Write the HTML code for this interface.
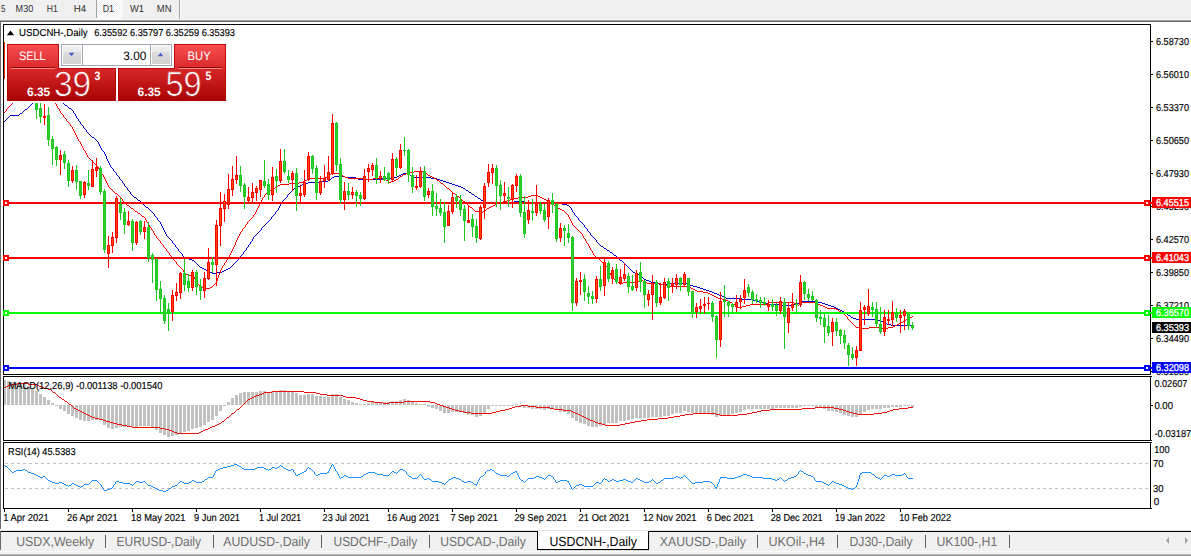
<!DOCTYPE html>
<html lang="en"><head><meta charset="utf-8"><title>USDCNH-,Daily</title>
<style>html,body{margin:0;padding:0;background:#fff;overflow:hidden}svg{display:block}text{font-family:"Liberation Sans", sans-serif;white-space:pre;text-rendering:geometricPrecision}</style></head><body>
<svg width="1191" height="556" viewBox="0 0 1191 556">
<defs>
<linearGradient id="gTop" x1="0" y1="0" x2="0" y2="1"><stop offset="0" stop-color="#fb4e50"/><stop offset="1" stop-color="#d92a2c"/></linearGradient>
<linearGradient id="gBot" x1="0" y1="0" x2="0" y2="1"><stop offset="0" stop-color="#d82829"/><stop offset="1" stop-color="#a80203"/></linearGradient>
<linearGradient id="gBotU" gradientUnits="userSpaceOnUse" x1="0" y1="68" x2="0" y2="101"><stop offset="0" stop-color="#d82829"/><stop offset="1" stop-color="#a80203"/></linearGradient>
<linearGradient id="gBtn" x1="0" y1="0" x2="0" y2="1"><stop offset="0" stop-color="#f2f2f2"/><stop offset="0.33" stop-color="#e8e8e8"/><stop offset="0.34" stop-color="#dcdcdc"/><stop offset="1" stop-color="#d2d2d2"/></linearGradient>
<pattern id="dith" width="2" height="2" patternUnits="userSpaceOnUse"><rect width="2" height="2" fill="#f0f0f0"/><rect width="1" height="1" fill="#fff"/><rect x="1" y="1" width="1" height="1" fill="#fff"/></pattern>
<clipPath id="cMain"><rect x="4" y="25" width="1146" height="349"/></clipPath>
<clipPath id="cMacd"><rect x="4" y="377" width="1146" height="63"/></clipPath>
<clipPath id="cRsi"><rect x="4" y="443" width="1146" height="65"/></clipPath>
</defs>
<g shape-rendering="crispEdges">
<rect x="0" y="0" width="1191" height="556" fill="#fff" />
<rect x="0" y="0" width="1191" height="19" fill="#f0f0f0" />
<rect x="0" y="19" width="1191" height="1" fill="#f6f6f6" />
<rect x="0" y="20" width="1191" height="1" fill="#a0a0a0" />
<rect x="0" y="21" width="1191" height="1" fill="#696969" />
<rect x="97" y="0" width="24" height="18" fill="url(#dith)" />
<rect x="96" y="0" width="1" height="18" fill="#a0a0a0" />
<rect x="121" y="0" width="1" height="19" fill="#fff" />
<rect x="96" y="18" width="26" height="1" fill="#fff" />
<rect x="179" y="0" width="1" height="19" fill="#a0a0a0" />
<rect x="180" y="0" width="1" height="19" fill="#fff" />
<rect x="0" y="21" width="1" height="508" fill="#696969" />
<rect x="0" y="529" width="1191" height="1" fill="#fff" />
<rect x="0" y="530" width="1191" height="1" fill="#e3e3e3" />
<rect x="0" y="531" width="1191" height="1" fill="#000" />
<rect x="0" y="532" width="1191" height="22" fill="#f0f0f0" />
<rect x="0" y="531" width="1" height="19" fill="#696969" />
<rect x="0" y="551" width="1191" height="1" fill="#fafafa" />
<rect x="0" y="554" width="1191" height="1" fill="#b8b8b8" />
<rect x="0" y="555" width="1191" height="1" fill="#989898" />
<rect x="538" y="531" width="110" height="18" fill="#fff" />
<rect x="537" y="531" width="1" height="19" fill="#000" />
<rect x="648" y="531" width="1" height="19" fill="#000" />
<rect x="537" y="549" width="112" height="1" fill="#000" />
<rect x="538" y="550" width="112" height="1" fill="#dcdcdc" />
<rect x="649" y="532" width="1" height="19" fill="#e2e2e2" />
<rect x="105" y="535" width="1" height="13" fill="#606060" />
<rect x="213" y="535" width="1" height="13" fill="#606060" />
<rect x="321" y="535" width="1" height="13" fill="#606060" />
<rect x="429" y="535" width="1" height="13" fill="#606060" />
<rect x="757" y="535" width="1" height="13" fill="#606060" />
<rect x="837" y="535" width="1" height="13" fill="#606060" />
<rect x="925" y="535" width="1" height="13" fill="#606060" />
<rect x="1009" y="535" width="1" height="13" fill="#606060" />
</g>
<path d="M1169 537 L1166 540.5 L1169 544 Z" fill="#a0a0a0"/>
<path d="M1185 537 L1188 540.5 L1185 544 Z" fill="#a0a0a0"/>
<text x="1" y="12" font-size="10.1" fill="#303030" textLength="4.4" lengthAdjust="spacingAndGlyphs">5</text>
<text x="15.6" y="12" font-size="10.1" fill="#303030" textLength="17.6" lengthAdjust="spacingAndGlyphs">M30</text>
<text x="46.8" y="12" font-size="10.1" fill="#303030" textLength="11.0" lengthAdjust="spacingAndGlyphs">H1</text>
<text x="73.8" y="12" font-size="10.1" fill="#303030" textLength="12.4" lengthAdjust="spacingAndGlyphs">H4</text>
<text x="102.7" y="12" font-size="10.1" fill="#303030" textLength="11.3" lengthAdjust="spacingAndGlyphs">D1</text>
<text x="130" y="12" font-size="10.1" fill="#303030" textLength="14" lengthAdjust="spacingAndGlyphs">W1</text>
<text x="156.8" y="12" font-size="10.1" fill="#303030" textLength="14.7" lengthAdjust="spacingAndGlyphs">MN</text>
<text x="16.2" y="546" font-size="13.2" fill="#6e6e6e" textLength="78.0" lengthAdjust="spacingAndGlyphs">USDX,Weekly</text>
<text x="116.5" y="546" font-size="13.2" fill="#6e6e6e" textLength="84.5" lengthAdjust="spacingAndGlyphs">EURUSD-,Daily</text>
<text x="223.2" y="546" font-size="13.2" fill="#6e6e6e" textLength="86.8" lengthAdjust="spacingAndGlyphs">AUDUSD-,Daily</text>
<text x="333.5" y="546" font-size="13.2" fill="#6e6e6e" textLength="83.7" lengthAdjust="spacingAndGlyphs">USDCHF-,Daily</text>
<text x="440.2" y="546" font-size="13.2" fill="#6e6e6e" textLength="85.6" lengthAdjust="spacingAndGlyphs">USDCAD-,Daily</text>
<text x="549.4" y="546" font-size="13.2" fill="#000" textLength="87.6" lengthAdjust="spacingAndGlyphs">USDCNH-,Daily</text>
<text x="659.8" y="546" font-size="13.2" fill="#6e6e6e" textLength="86.0" lengthAdjust="spacingAndGlyphs">XAUUSD-,Daily</text>
<text x="768.4" y="546" font-size="13.2" fill="#6e6e6e" textLength="56.6" lengthAdjust="spacingAndGlyphs">UKOil-,H4</text>
<text x="849.5" y="546" font-size="13.2" fill="#6e6e6e" textLength="63.1" lengthAdjust="spacingAndGlyphs">DJ30-,Daily</text>
<text x="936.4" y="546" font-size="13.2" fill="#6e6e6e" textLength="60.9" lengthAdjust="spacingAndGlyphs">UK100-,H1</text>
<g shape-rendering="crispEdges">
<rect x="3" y="24" width="1148" height="1" fill="#000" />
<rect x="3" y="374" width="1148" height="1" fill="#000" />
<rect x="3" y="24" width="1" height="351" fill="#000" />
<rect x="1150" y="24" width="1" height="351" fill="#000" />
<rect x="3" y="376" width="1148" height="1" fill="#000" />
<rect x="3" y="440" width="1148" height="1" fill="#000" />
<rect x="3" y="376" width="1" height="65" fill="#000" />
<rect x="1150" y="376" width="1" height="65" fill="#000" />
<rect x="3" y="442" width="1148" height="1" fill="#000" />
<rect x="3" y="508" width="1148" height="1" fill="#000" />
<rect x="3" y="442" width="1" height="67" fill="#000" />
<rect x="1150" y="442" width="1" height="67" fill="#000" />
<rect x="1151" y="41" width="2" height="1" fill="#000" />
<rect x="1151" y="74" width="2" height="1" fill="#000" />
<rect x="1151" y="107" width="2" height="1" fill="#000" />
<rect x="1151" y="140" width="2" height="1" fill="#000" />
<rect x="1151" y="173" width="2" height="1" fill="#000" />
<rect x="1151" y="206" width="2" height="1" fill="#000" />
<rect x="1151" y="239" width="2" height="1" fill="#000" />
<rect x="1151" y="272" width="2" height="1" fill="#000" />
<rect x="1151" y="305" width="2" height="1" fill="#000" />
<rect x="1151" y="338" width="2" height="1" fill="#000" />
<rect x="1151" y="371" width="2" height="1" fill="#000" />
<rect x="1151" y="405" width="2" height="1" fill="#000" />
<rect x="1151" y="376" width="1" height="1" fill="#000" />
<rect x="1151" y="440" width="1" height="1" fill="#000" />
<rect x="1151" y="442" width="1" height="1" fill="#000" />
<rect x="1151" y="508" width="1" height="1" fill="#000" />
<rect x="4" y="509" width="1" height="3" fill="#000" />
<rect x="68" y="509" width="1" height="3" fill="#000" />
<rect x="132" y="509" width="1" height="3" fill="#000" />
<rect x="196" y="509" width="1" height="3" fill="#000" />
<rect x="260" y="509" width="1" height="3" fill="#000" />
<rect x="324" y="509" width="1" height="3" fill="#000" />
<rect x="388" y="509" width="1" height="3" fill="#000" />
<rect x="452" y="509" width="1" height="3" fill="#000" />
<rect x="516" y="509" width="1" height="3" fill="#000" />
<rect x="580" y="509" width="1" height="3" fill="#000" />
<rect x="644" y="509" width="1" height="3" fill="#000" />
<rect x="708" y="509" width="1" height="3" fill="#000" />
<rect x="772" y="509" width="1" height="3" fill="#000" />
<rect x="836" y="509" width="1" height="3" fill="#000" />
<rect x="900" y="509" width="1" height="3" fill="#000" />
</g>
<text x="1156" y="45" font-size="10.1" fill="#000" textLength="33" lengthAdjust="spacingAndGlyphs" stroke="#000" stroke-width="0.15">6.58730</text>
<text x="1156" y="78" font-size="10.1" fill="#000" textLength="33" lengthAdjust="spacingAndGlyphs" stroke="#000" stroke-width="0.15">6.56010</text>
<text x="1156" y="111" font-size="10.1" fill="#000" textLength="33" lengthAdjust="spacingAndGlyphs" stroke="#000" stroke-width="0.15">6.53370</text>
<text x="1156" y="144" font-size="10.1" fill="#000" textLength="33" lengthAdjust="spacingAndGlyphs" stroke="#000" stroke-width="0.15">6.50650</text>
<text x="1156" y="177" font-size="10.1" fill="#000" textLength="33" lengthAdjust="spacingAndGlyphs" stroke="#000" stroke-width="0.15">6.47930</text>
<text x="1156" y="210" font-size="10.1" fill="#000" textLength="33" lengthAdjust="spacingAndGlyphs" stroke="#000" stroke-width="0.15">6.45290</text>
<text x="1156" y="243" font-size="10.1" fill="#000" textLength="33" lengthAdjust="spacingAndGlyphs" stroke="#000" stroke-width="0.15">6.42570</text>
<text x="1156" y="276" font-size="10.1" fill="#000" textLength="33" lengthAdjust="spacingAndGlyphs" stroke="#000" stroke-width="0.15">6.39850</text>
<text x="1156" y="309" font-size="10.1" fill="#000" textLength="33" lengthAdjust="spacingAndGlyphs" stroke="#000" stroke-width="0.15">6.37210</text>
<text x="1156" y="342" font-size="10.1" fill="#000" textLength="33" lengthAdjust="spacingAndGlyphs" stroke="#000" stroke-width="0.15">6.34490</text>
<text x="1156" y="375" font-size="10.1" fill="#000" textLength="33" lengthAdjust="spacingAndGlyphs" stroke="#000" stroke-width="0.15">6.31850</text>
<text x="3.2" y="521" font-size="10.1" fill="#000" textLength="45.6" lengthAdjust="spacingAndGlyphs" stroke="#000" stroke-width="0.15">1 Apr 2021</text>
<text x="67.1" y="521" font-size="10.1" fill="#000" textLength="50.6" lengthAdjust="spacingAndGlyphs" stroke="#000" stroke-width="0.15">26 Apr 2021</text>
<text x="131.1" y="521" font-size="10.1" fill="#000" textLength="54.3" lengthAdjust="spacingAndGlyphs" stroke="#000" stroke-width="0.15">18 May 2021</text>
<text x="194.1" y="521" font-size="10.1" fill="#000" textLength="45.9" lengthAdjust="spacingAndGlyphs" stroke="#000" stroke-width="0.15">9 Jun 2021</text>
<text x="258.9" y="521" font-size="10.1" fill="#000" textLength="42.3" lengthAdjust="spacingAndGlyphs" stroke="#000" stroke-width="0.15">1 Jul 2021</text>
<text x="322.6" y="521" font-size="10.1" fill="#000" textLength="47.1" lengthAdjust="spacingAndGlyphs" stroke="#000" stroke-width="0.15">23 Jul 2021</text>
<text x="386.8" y="521" font-size="10.1" fill="#000" textLength="53.0" lengthAdjust="spacingAndGlyphs" stroke="#000" stroke-width="0.15">16 Aug 2021</text>
<text x="450.4" y="521" font-size="10.1" fill="#000" textLength="47.4" lengthAdjust="spacingAndGlyphs" stroke="#000" stroke-width="0.15">7 Sep 2021</text>
<text x="514.4" y="521" font-size="10.1" fill="#000" textLength="52.7" lengthAdjust="spacingAndGlyphs" stroke="#000" stroke-width="0.15">29 Sep 2021</text>
<text x="578.6" y="521" font-size="10.1" fill="#000" textLength="51.2" lengthAdjust="spacingAndGlyphs" stroke="#000" stroke-width="0.15">21 Oct 2021</text>
<text x="642.9" y="521" font-size="10.1" fill="#000" textLength="53.7" lengthAdjust="spacingAndGlyphs" stroke="#000" stroke-width="0.15">12 Nov 2021</text>
<text x="706.7" y="521" font-size="10.1" fill="#000" textLength="47.2" lengthAdjust="spacingAndGlyphs" stroke="#000" stroke-width="0.15">6 Dec 2021</text>
<text x="770.7" y="521" font-size="10.1" fill="#000" textLength="51.9" lengthAdjust="spacingAndGlyphs" stroke="#000" stroke-width="0.15">28 Dec 2021</text>
<text x="834.9" y="521" font-size="10.1" fill="#000" textLength="50.2" lengthAdjust="spacingAndGlyphs" stroke="#000" stroke-width="0.15">19 Jan 2022</text>
<text x="899.2" y="521" font-size="10.1" fill="#000" textLength="51.9" lengthAdjust="spacingAndGlyphs" stroke="#000" stroke-width="0.15">10 Feb 2022</text>
<g clip-path="url(#cMain)">
<path d="M35 100.5h1M62 100.5h1M34 101.5h1M62 101.5h1M33 102.5h1M63 102.5h1M32 103.5h1M63 103.5h1M31 104.5h1M64 104.5h1M30 105.5h1M65 105.5h2M29 106.5h1M67 106.5h1M28 107.5h1M68 107.5h1M27 108.5h1M69 108.5h2M25 109.5h2M71 109.5h1M24 110.5h1M72 110.5h1M23 111.5h1M73 111.5h1M22 112.5h1M73 112.5h1M20 113.5h2M74 113.5h1M19 114.5h1M75 114.5h1M10 115.5h9M75 115.5h1M9 116.5h1M76 116.5h1M8 117.5h1M76 117.5h1M7 118.5h1M77 118.5h1M6 119.5h1M78 119.5h1M5 120.5h1M78 120.5h1M4 121.5h1M79 121.5h1M80 122.5h1M80 123.5h1M81 124.5h1M82 125.5h1M83 126.5h1M83 127.5h1M84 128.5h1M85 129.5h1M86 130.5h1M86 131.5h1M87 132.5h1M88 133.5h1M89 134.5h1M90 135.5h1M91 136.5h1M92 137.5h2M94 138.5h1M95 139.5h1M96 140.5h1M97 141.5h1M98 142.5h1M98 143.5h1M99 144.5h1M99 145.5h1M100 146.5h1M100 147.5h1M101 148.5h1M101 149.5h1M102 150.5h1M103 151.5h1M104 152.5h1M104 153.5h1M105 154.5h1M105 155.5h1M106 156.5h1M106 157.5h1M106 158.5h1M107 159.5h1M107 160.5h1M108 161.5h1M108 162.5h1M109 163.5h1M109 164.5h1M110 165.5h1M110 166.5h1M111 167.5h1M112 168.5h1M113 169.5h1M113 170.5h1M114 171.5h1M115 172.5h1M116 173.5h1M403 173.5h4M116 174.5h1M401 174.5h2M407 174.5h3M117 175.5h1M399 175.5h2M410 175.5h2M118 176.5h1M334 176.5h11M397 176.5h2M412 176.5h2M119 177.5h1M332 177.5h2M345 177.5h11M392 177.5h5M414 177.5h17M119 178.5h1M331 178.5h1M356 178.5h2M382 178.5h10M431 178.5h6M120 179.5h1M330 179.5h1M358 179.5h24M437 179.5h3M121 180.5h1M328 180.5h2M440 180.5h3M122 181.5h1M319 181.5h9M443 181.5h3M122 182.5h1M308 182.5h11M446 182.5h3M123 183.5h1M305 183.5h3M449 183.5h3M124 184.5h1M302 184.5h3M452 184.5h3M124 185.5h1M300 185.5h2M455 185.5h3M125 186.5h1M298 186.5h2M458 186.5h3M126 187.5h1M296 187.5h2M461 187.5h2M127 188.5h1M294 188.5h2M463 188.5h2M127 189.5h1M293 189.5h1M465 189.5h1M128 190.5h1M292 190.5h1M466 190.5h2M129 191.5h1M291 191.5h1M468 191.5h1M130 192.5h1M290 192.5h1M469 192.5h2M130 193.5h1M289 193.5h1M471 193.5h1M131 194.5h1M288 194.5h1M472 194.5h2M132 195.5h1M287 195.5h1M474 195.5h1M133 196.5h1M287 196.5h1M475 196.5h2M134 197.5h2M286 197.5h1M477 197.5h1M136 198.5h1M285 198.5h1M478 198.5h2M137 199.5h1M284 199.5h1M480 199.5h1M138 200.5h2M283 200.5h1M481 200.5h2M140 201.5h1M282 201.5h1M483 201.5h2M514 201.5h11M551 201.5h2M141 202.5h1M281 202.5h1M485 202.5h29M525 202.5h26M553 202.5h3M142 203.5h1M281 203.5h1M556 203.5h6M143 204.5h1M280 204.5h1M562 204.5h5M144 205.5h1M280 205.5h1M567 205.5h2M145 206.5h1M279 206.5h1M569 206.5h1M146 207.5h2M279 207.5h1M570 207.5h1M148 208.5h1M278 208.5h1M571 208.5h1M149 209.5h1M278 209.5h1M571 209.5h1M150 210.5h1M277 210.5h1M572 210.5h1M151 211.5h1M276 211.5h1M572 211.5h1M152 212.5h1M275 212.5h1M573 212.5h1M153 213.5h1M275 213.5h1M574 213.5h1M154 214.5h1M274 214.5h1M574 214.5h1M154 215.5h1M273 215.5h1M575 215.5h1M155 216.5h1M272 216.5h1M576 216.5h1M156 217.5h1M271 217.5h1M577 217.5h1M157 218.5h1M271 218.5h1M578 218.5h1M157 219.5h1M270 219.5h1M578 219.5h1M158 220.5h1M269 220.5h1M579 220.5h1M159 221.5h1M268 221.5h1M580 221.5h1M160 222.5h1M267 222.5h1M581 222.5h1M160 223.5h1M266 223.5h1M582 223.5h1M161 224.5h1M265 224.5h1M583 224.5h1M161 225.5h1M264 225.5h1M584 225.5h1M162 226.5h1M263 226.5h1M584 226.5h1M162 227.5h1M262 227.5h1M585 227.5h1M163 228.5h1M261 228.5h1M586 228.5h1M163 229.5h1M261 229.5h1M587 229.5h1M164 230.5h1M260 230.5h1M587 230.5h1M164 231.5h1M259 231.5h1M588 231.5h1M165 232.5h1M258 232.5h1M589 232.5h1M165 233.5h1M257 233.5h1M590 233.5h1M166 234.5h1M256 234.5h1M590 234.5h1M166 235.5h1M255 235.5h1M591 235.5h1M167 236.5h1M254 236.5h1M592 236.5h1M168 237.5h1M253 237.5h1M593 237.5h1M169 238.5h1M253 238.5h1M594 238.5h1M170 239.5h1M252 239.5h1M595 239.5h1M171 240.5h1M252 240.5h1M596 240.5h1M172 241.5h1M251 241.5h1M596 241.5h1M172 242.5h1M250 242.5h1M597 242.5h1M173 243.5h1M250 243.5h1M598 243.5h1M174 244.5h1M249 244.5h1M599 244.5h1M175 245.5h1M248 245.5h1M600 245.5h1M175 246.5h1M248 246.5h1M601 246.5h2M176 247.5h1M247 247.5h1M603 247.5h1M177 248.5h1M246 248.5h1M604 248.5h2M178 249.5h1M246 249.5h1M606 249.5h1M178 250.5h1M245 250.5h1M607 250.5h2M179 251.5h1M244 251.5h1M609 251.5h1M180 252.5h1M243 252.5h1M610 252.5h2M181 253.5h1M243 253.5h1M612 253.5h1M182 254.5h1M242 254.5h1M613 254.5h1M182 255.5h1M241 255.5h1M614 255.5h2M183 256.5h1M240 256.5h1M616 256.5h1M184 257.5h2M240 257.5h1M617 257.5h1M186 258.5h3M239 258.5h1M618 258.5h1M189 259.5h3M238 259.5h1M619 259.5h1M192 260.5h2M237 260.5h1M620 260.5h2M194 261.5h1M236 261.5h1M622 261.5h1M195 262.5h1M235 262.5h1M623 262.5h1M196 263.5h1M234 263.5h1M624 263.5h1M197 264.5h1M233 264.5h1M625 264.5h1M198 265.5h1M232 265.5h1M626 265.5h1M199 266.5h1M231 266.5h1M627 266.5h1M200 267.5h2M230 267.5h1M628 267.5h1M202 268.5h2M228 268.5h2M629 268.5h1M204 269.5h2M226 269.5h2M630 269.5h1M206 270.5h2M224 270.5h2M631 270.5h1M208 271.5h2M222 271.5h2M632 271.5h1M210 272.5h2M217 272.5h5M633 272.5h2M212 273.5h5M635 273.5h2M637 274.5h2M639 275.5h1M640 276.5h1M641 277.5h2M643 278.5h1M644 279.5h2M646 280.5h3M649 281.5h2M651 282.5h4M655 283.5h4M667 283.5h21M659 284.5h8M688 284.5h2M690 285.5h3M693 286.5h4M697 287.5h3M700 288.5h3M703 289.5h3M706 290.5h3M709 291.5h3M712 292.5h2M714 293.5h3M717 294.5h2M719 295.5h3M722 296.5h2M724 297.5h2M726 298.5h16M742 299.5h10M752 300.5h5M757 301.5h3M802 301.5h16M760 302.5h3M800 302.5h2M818 302.5h4M763 303.5h6M797 303.5h3M822 303.5h3M769 304.5h10M793 304.5h4M825 304.5h3M779 305.5h14M828 305.5h3M831 306.5h3M834 307.5h2M836 308.5h2M838 309.5h2M840 310.5h2M842 311.5h2M844 312.5h2M846 313.5h1M847 314.5h1M848 315.5h2M850 316.5h1M851 317.5h2M853 318.5h3M856 319.5h22M878 320.5h3M881 321.5h2M883 322.5h2M885 323.5h2M887 324.5h4M891 325.5h22" fill="none" stroke="#0000d0" stroke-width="1" shape-rendering="crispEdges"/>
<path d="M15 100.5h1M54 100.5h1M14 101.5h1M54 101.5h1M13 102.5h1M55 102.5h1M12 103.5h1M55 103.5h1M11 104.5h1M56 104.5h1M10 105.5h1M56 105.5h1M9 106.5h1M57 106.5h1M8 107.5h1M57 107.5h1M7 108.5h1M58 108.5h1M6 109.5h1M59 109.5h1M6 110.5h1M59 110.5h1M5 111.5h1M60 111.5h1M4 112.5h1M60 112.5h1M61 113.5h1M62 114.5h1M63 115.5h1M63 116.5h1M64 117.5h1M65 118.5h1M66 119.5h1M66 120.5h1M67 121.5h1M68 122.5h1M69 123.5h1M70 124.5h1M70 125.5h1M71 126.5h1M72 127.5h1M72 128.5h1M73 129.5h1M73 130.5h1M74 131.5h1M74 132.5h1M75 133.5h1M75 134.5h1M76 135.5h1M76 136.5h1M77 137.5h1M77 138.5h1M78 139.5h1M78 140.5h1M79 141.5h1M80 142.5h1M80 143.5h1M81 144.5h1M81 145.5h1M82 146.5h1M82 147.5h1M83 148.5h1M83 149.5h1M84 150.5h1M85 151.5h1M85 152.5h1M86 153.5h1M86 154.5h1M87 155.5h1M87 156.5h1M88 157.5h1M89 158.5h1M90 159.5h1M91 160.5h1M92 161.5h1M93 162.5h1M94 163.5h1M95 164.5h1M96 165.5h1M97 166.5h1M98 167.5h1M98 168.5h1M99 169.5h1M99 170.5h1M100 171.5h1M414 171.5h9M101 172.5h1M410 172.5h4M423 172.5h2M101 173.5h1M331 173.5h8M406 173.5h4M425 173.5h2M102 174.5h1M329 174.5h2M339 174.5h2M403 174.5h3M427 174.5h1M103 175.5h1M328 175.5h1M341 175.5h2M402 175.5h1M428 175.5h2M103 176.5h1M327 176.5h1M343 176.5h2M400 176.5h2M430 176.5h2M104 177.5h1M325 177.5h2M345 177.5h3M399 177.5h1M432 177.5h2M104 178.5h1M308 178.5h17M348 178.5h16M373 178.5h9M398 178.5h1M434 178.5h2M105 179.5h1M307 179.5h1M364 179.5h9M382 179.5h4M396 179.5h2M436 179.5h1M105 180.5h1M305 180.5h2M386 180.5h2M394 180.5h2M437 180.5h2M106 181.5h1M303 181.5h2M388 181.5h1M391 181.5h3M439 181.5h1M106 182.5h1M299 182.5h4M389 182.5h2M440 182.5h1M107 183.5h1M289 183.5h10M441 183.5h2M107 184.5h1M280 184.5h9M443 184.5h1M108 185.5h1M278 185.5h2M444 185.5h1M108 186.5h1M276 186.5h2M445 186.5h1M109 187.5h1M275 187.5h1M446 187.5h1M110 188.5h1M273 188.5h2M447 188.5h2M111 189.5h1M271 189.5h2M449 189.5h1M112 190.5h1M270 190.5h1M450 190.5h1M113 191.5h1M269 191.5h1M451 191.5h1M114 192.5h1M267 192.5h2M452 192.5h1M115 193.5h2M266 193.5h1M453 193.5h2M117 194.5h1M265 194.5h1M455 194.5h1M118 195.5h1M264 195.5h1M456 195.5h1M531 195.5h7M119 196.5h1M264 196.5h1M457 196.5h2M528 196.5h3M538 196.5h2M120 197.5h1M263 197.5h1M459 197.5h1M518 197.5h10M540 197.5h2M121 198.5h1M262 198.5h1M460 198.5h1M514 198.5h4M542 198.5h2M122 199.5h1M262 199.5h1M461 199.5h1M510 199.5h4M544 199.5h2M122 200.5h1M261 200.5h1M462 200.5h1M507 200.5h3M546 200.5h2M123 201.5h1M261 201.5h1M463 201.5h2M503 201.5h4M548 201.5h2M124 202.5h1M260 202.5h1M465 202.5h1M499 202.5h4M550 202.5h2M125 203.5h1M260 203.5h1M466 203.5h1M497 203.5h2M552 203.5h1M126 204.5h1M259 204.5h1M467 204.5h1M495 204.5h2M553 204.5h1M127 205.5h2M259 205.5h1M468 205.5h1M493 205.5h2M554 205.5h2M129 206.5h1M258 206.5h1M469 206.5h1M491 206.5h2M556 206.5h1M130 207.5h1M258 207.5h1M470 207.5h2M489 207.5h2M557 207.5h1M131 208.5h2M257 208.5h1M472 208.5h1M487 208.5h2M558 208.5h2M133 209.5h1M257 209.5h1M473 209.5h1M486 209.5h1M560 209.5h2M134 210.5h1M256 210.5h1M474 210.5h1M485 210.5h1M562 210.5h2M135 211.5h2M256 211.5h1M475 211.5h4M483 211.5h2M564 211.5h1M137 212.5h1M255 212.5h1M479 212.5h4M565 212.5h1M138 213.5h2M255 213.5h1M566 213.5h1M140 214.5h1M254 214.5h1M567 214.5h1M141 215.5h1M253 215.5h1M568 215.5h1M142 216.5h2M253 216.5h1M568 216.5h1M144 217.5h1M252 217.5h1M569 217.5h1M145 218.5h1M251 218.5h1M569 218.5h1M145 219.5h1M250 219.5h1M570 219.5h1M146 220.5h1M249 220.5h1M570 220.5h1M146 221.5h1M248 221.5h1M571 221.5h1M147 222.5h1M247 222.5h1M571 222.5h1M148 223.5h1M247 223.5h1M572 223.5h1M148 224.5h1M246 224.5h1M572 224.5h1M149 225.5h1M245 225.5h1M573 225.5h1M149 226.5h1M245 226.5h1M574 226.5h1M150 227.5h1M244 227.5h1M575 227.5h1M151 228.5h1M243 228.5h1M576 228.5h1M151 229.5h1M242 229.5h1M577 229.5h1M152 230.5h1M242 230.5h1M578 230.5h1M153 231.5h1M241 231.5h1M579 231.5h1M153 232.5h1M240 232.5h1M580 232.5h1M154 233.5h1M240 233.5h1M581 233.5h1M154 234.5h1M239 234.5h1M582 234.5h1M155 235.5h1M239 235.5h1M582 235.5h1M156 236.5h1M238 236.5h1M583 236.5h1M156 237.5h1M238 237.5h1M583 237.5h1M157 238.5h1M237 238.5h1M584 238.5h1M158 239.5h1M237 239.5h1M585 239.5h1M159 240.5h1M236 240.5h1M585 240.5h1M160 241.5h1M236 241.5h1M586 241.5h1M160 242.5h1M235 242.5h1M586 242.5h1M161 243.5h1M235 243.5h1M587 243.5h1M162 244.5h1M235 244.5h1M588 244.5h1M163 245.5h1M234 245.5h1M588 245.5h1M163 246.5h1M234 246.5h1M589 246.5h1M164 247.5h1M233 247.5h1M589 247.5h1M165 248.5h1M233 248.5h1M590 248.5h1M166 249.5h1M232 249.5h1M590 249.5h1M166 250.5h1M232 250.5h1M591 250.5h1M167 251.5h1M231 251.5h1M592 251.5h1M168 252.5h1M231 252.5h1M592 252.5h1M169 253.5h1M230 253.5h1M593 253.5h1M169 254.5h1M230 254.5h1M593 254.5h1M170 255.5h1M229 255.5h1M594 255.5h1M171 256.5h1M229 256.5h1M595 256.5h1M172 257.5h1M228 257.5h1M596 257.5h1M172 258.5h1M228 258.5h1M597 258.5h2M173 259.5h1M227 259.5h1M599 259.5h1M174 260.5h1M226 260.5h1M600 260.5h1M175 261.5h1M226 261.5h1M601 261.5h1M176 262.5h1M225 262.5h1M602 262.5h1M176 263.5h1M224 263.5h1M603 263.5h1M177 264.5h1M224 264.5h1M604 264.5h1M178 265.5h1M223 265.5h1M605 265.5h1M179 266.5h1M222 266.5h1M606 266.5h1M180 267.5h1M222 267.5h1M607 267.5h1M181 268.5h1M221 268.5h1M607 268.5h1M182 269.5h1M221 269.5h1M608 269.5h1M183 270.5h1M220 270.5h1M608 270.5h1M183 271.5h1M220 271.5h1M609 271.5h1M184 272.5h1M220 272.5h1M609 272.5h1M185 273.5h1M219 273.5h1M610 273.5h1M186 274.5h2M219 274.5h1M610 274.5h1M188 275.5h4M218 275.5h1M611 275.5h1M192 276.5h2M218 276.5h1M611 276.5h1M194 277.5h1M218 277.5h1M612 277.5h1M194 278.5h1M217 278.5h1M613 278.5h1M195 279.5h1M217 279.5h1M614 279.5h1M195 280.5h1M217 280.5h1M615 280.5h2M639 280.5h4M196 281.5h1M216 281.5h1M617 281.5h1M635 281.5h4M643 281.5h2M197 282.5h1M216 282.5h1M618 282.5h1M623 282.5h12M645 282.5h2M197 283.5h1M215 283.5h1M619 283.5h4M647 283.5h14M198 284.5h1M214 284.5h1M661 284.5h5M199 285.5h1M213 285.5h1M666 285.5h4M200 286.5h2M212 286.5h1M670 286.5h19M202 287.5h1M210 287.5h2M689 287.5h2M203 288.5h7M691 288.5h2M693 289.5h2M695 290.5h2M697 291.5h6M703 292.5h5M708 293.5h2M710 294.5h2M712 295.5h2M714 296.5h2M716 297.5h2M718 298.5h4M722 299.5h4M726 300.5h2M728 301.5h2M730 302.5h2M769 302.5h25M801 302.5h15M732 303.5h1M767 303.5h2M794 303.5h2M800 303.5h1M816 303.5h2M733 304.5h2M750 304.5h17M796 304.5h2M799 304.5h1M818 304.5h2M735 305.5h1M746 305.5h4M798 305.5h1M820 305.5h3M736 306.5h1M742 306.5h4M823 306.5h2M737 307.5h5M825 307.5h2M827 308.5h9M836 309.5h2M838 310.5h1M839 311.5h2M841 312.5h1M842 313.5h2M844 314.5h1M845 315.5h1M846 316.5h1M912 316.5h1M847 317.5h1M910 317.5h2M847 318.5h1M908 318.5h2M848 319.5h1M906 319.5h2M849 320.5h1M905 320.5h1M850 321.5h1M903 321.5h2M851 322.5h1M901 322.5h2M852 323.5h1M899 323.5h2M853 324.5h1M897 324.5h2M854 325.5h1M895 325.5h2M855 326.5h1M893 326.5h2M856 327.5h5M869 327.5h10M888 327.5h5M861 328.5h8M879 328.5h9" fill="none" stroke="#ff0000" stroke-width="1" shape-rendering="crispEdges"/>
</g>
<g shape-rendering="crispEdges">
<rect x="4" y="202" width="1148" height="2" fill="#ff0000" />
<rect x="3" y="200" width="6" height="6" fill="#ff0000" />
<rect x="5" y="202" width="2" height="2" fill="#fff" />
<rect x="1144" y="200" width="6" height="6" fill="#ff0000" />
<rect x="1146" y="202" width="2" height="2" fill="#fff" />
<rect x="4" y="257" width="1148" height="2" fill="#ff0000" />
<rect x="3" y="255" width="6" height="6" fill="#ff0000" />
<rect x="5" y="257" width="2" height="2" fill="#fff" />
<rect x="1144" y="255" width="6" height="6" fill="#ff0000" />
<rect x="1146" y="257" width="2" height="2" fill="#fff" />
<rect x="4" y="312" width="1148" height="2" fill="#00ff00" />
<rect x="3" y="310" width="6" height="6" fill="#00ff00" />
<rect x="5" y="312" width="2" height="2" fill="#fff" />
<rect x="1144" y="310" width="6" height="6" fill="#00ff00" />
<rect x="1146" y="312" width="2" height="2" fill="#fff" />
<rect x="4" y="367" width="1148" height="2" fill="#0000ff" />
<rect x="3" y="365" width="6" height="6" fill="#0000ff" />
<rect x="5" y="367" width="2" height="2" fill="#fff" />
<rect x="1144" y="365" width="6" height="6" fill="#0000ff" />
<rect x="1146" y="367" width="2" height="2" fill="#fff" />
</g>
<g clip-path="url(#cMain)">
<g shape-rendering="crispEdges">
<rect x="36" y="98" width="1" height="21" fill="#1fc81f" />
<rect x="35" y="98" width="3" height="12" fill="#1fc81f" />
<rect x="36" y="99" width="1" height="10" fill="#32cd32" />
<rect x="40" y="103" width="1" height="20" fill="#1fc81f" />
<rect x="39" y="108" width="3" height="9" fill="#1fc81f" />
<rect x="40" y="109" width="1" height="7" fill="#32cd32" />
<rect x="44" y="104" width="1" height="21" fill="#ff0000" />
<rect x="43" y="116" width="3" height="2" fill="#ff0000" />
<rect x="48" y="107" width="1" height="39" fill="#1fc81f" />
<rect x="47" y="115" width="3" height="25" fill="#1fc81f" />
<rect x="48" y="116" width="1" height="23" fill="#32cd32" />
<rect x="52" y="136" width="1" height="29" fill="#1fc81f" />
<rect x="51" y="139" width="3" height="10" fill="#1fc81f" />
<rect x="52" y="140" width="1" height="8" fill="#32cd32" />
<rect x="56" y="146" width="1" height="20" fill="#1fc81f" />
<rect x="55" y="147" width="3" height="13" fill="#1fc81f" />
<rect x="56" y="148" width="1" height="11" fill="#32cd32" />
<rect x="60" y="150" width="1" height="25" fill="#ff0000" />
<rect x="59" y="155" width="3" height="5" fill="#ff0000" />
<rect x="60" y="156" width="1" height="3" fill="#ff4500" />
<rect x="64" y="151" width="1" height="18" fill="#1fc81f" />
<rect x="63" y="154" width="3" height="9" fill="#1fc81f" />
<rect x="64" y="155" width="1" height="7" fill="#32cd32" />
<rect x="68" y="160" width="1" height="27" fill="#1fc81f" />
<rect x="67" y="163" width="3" height="18" fill="#1fc81f" />
<rect x="68" y="164" width="1" height="16" fill="#32cd32" />
<rect x="72" y="166" width="1" height="17" fill="#ff0000" />
<rect x="71" y="170" width="3" height="11" fill="#ff0000" />
<rect x="72" y="171" width="1" height="9" fill="#ff4500" />
<rect x="76" y="165" width="1" height="25" fill="#1fc81f" />
<rect x="75" y="170" width="3" height="12" fill="#1fc81f" />
<rect x="76" y="171" width="1" height="10" fill="#32cd32" />
<rect x="80" y="181" width="1" height="18" fill="#1fc81f" />
<rect x="79" y="181" width="3" height="15" fill="#1fc81f" />
<rect x="80" y="182" width="1" height="13" fill="#32cd32" />
<rect x="84" y="181" width="1" height="17" fill="#ff0000" />
<rect x="83" y="182" width="3" height="13" fill="#ff0000" />
<rect x="84" y="183" width="1" height="11" fill="#ff4500" />
<rect x="88" y="170" width="1" height="20" fill="#1fc81f" />
<rect x="87" y="183" width="3" height="3" fill="#1fc81f" />
<rect x="88" y="184" width="1" height="1" fill="#32cd32" />
<rect x="92" y="160" width="1" height="27" fill="#ff0000" />
<rect x="91" y="169" width="3" height="18" fill="#ff0000" />
<rect x="92" y="170" width="1" height="16" fill="#ff4500" />
<rect x="96" y="158" width="1" height="19" fill="#ff0000" />
<rect x="95" y="167" width="3" height="4" fill="#ff0000" />
<rect x="96" y="168" width="1" height="2" fill="#ff4500" />
<rect x="100" y="166" width="1" height="29" fill="#1fc81f" />
<rect x="99" y="168" width="3" height="24" fill="#1fc81f" />
<rect x="100" y="169" width="1" height="22" fill="#32cd32" />
<rect x="104" y="189" width="1" height="64" fill="#1fc81f" />
<rect x="103" y="191" width="3" height="59" fill="#1fc81f" />
<rect x="104" y="192" width="1" height="57" fill="#32cd32" />
<rect x="108" y="236" width="1" height="32" fill="#ff0000" />
<rect x="107" y="245" width="3" height="9" fill="#ff0000" />
<rect x="108" y="246" width="1" height="7" fill="#ff4500" />
<rect x="112" y="232" width="1" height="21" fill="#ff0000" />
<rect x="111" y="237" width="3" height="9" fill="#ff0000" />
<rect x="112" y="238" width="1" height="7" fill="#ff4500" />
<rect x="116" y="196" width="1" height="47" fill="#ff0000" />
<rect x="115" y="198" width="3" height="40" fill="#ff0000" />
<rect x="116" y="199" width="1" height="38" fill="#ff4500" />
<rect x="120" y="198" width="1" height="22" fill="#1fc81f" />
<rect x="119" y="204" width="3" height="9" fill="#1fc81f" />
<rect x="120" y="205" width="1" height="7" fill="#32cd32" />
<rect x="124" y="208" width="1" height="26" fill="#1fc81f" />
<rect x="123" y="212" width="3" height="13" fill="#1fc81f" />
<rect x="124" y="213" width="1" height="11" fill="#32cd32" />
<rect x="128" y="211" width="1" height="15" fill="#ff0000" />
<rect x="127" y="221" width="3" height="4" fill="#ff0000" />
<rect x="128" y="222" width="1" height="2" fill="#ff4500" />
<rect x="132" y="219" width="1" height="32" fill="#1fc81f" />
<rect x="131" y="221" width="3" height="22" fill="#1fc81f" />
<rect x="132" y="222" width="1" height="20" fill="#32cd32" />
<rect x="136" y="221" width="1" height="24" fill="#ff0000" />
<rect x="135" y="222" width="3" height="21" fill="#ff0000" />
<rect x="136" y="223" width="1" height="19" fill="#ff4500" />
<rect x="140" y="220" width="1" height="15" fill="#1fc81f" />
<rect x="139" y="221" width="3" height="11" fill="#1fc81f" />
<rect x="140" y="222" width="1" height="9" fill="#32cd32" />
<rect x="144" y="221" width="1" height="18" fill="#ff0000" />
<rect x="143" y="227" width="3" height="5" fill="#ff0000" />
<rect x="144" y="228" width="1" height="3" fill="#ff4500" />
<rect x="148" y="222" width="1" height="40" fill="#1fc81f" />
<rect x="147" y="227" width="3" height="31" fill="#1fc81f" />
<rect x="148" y="228" width="1" height="29" fill="#32cd32" />
<rect x="152" y="253" width="1" height="30" fill="#1fc81f" />
<rect x="151" y="255" width="3" height="5" fill="#1fc81f" />
<rect x="152" y="256" width="1" height="3" fill="#32cd32" />
<rect x="156" y="258" width="1" height="43" fill="#1fc81f" />
<rect x="155" y="259" width="3" height="31" fill="#1fc81f" />
<rect x="156" y="260" width="1" height="29" fill="#32cd32" />
<rect x="160" y="281" width="1" height="32" fill="#1fc81f" />
<rect x="159" y="289" width="3" height="10" fill="#1fc81f" />
<rect x="160" y="290" width="1" height="8" fill="#32cd32" />
<rect x="164" y="295" width="1" height="29" fill="#1fc81f" />
<rect x="163" y="298" width="3" height="23" fill="#1fc81f" />
<rect x="164" y="299" width="1" height="21" fill="#32cd32" />
<rect x="168" y="303" width="1" height="28" fill="#1fc81f" />
<rect x="167" y="309" width="3" height="5" fill="#1fc81f" />
<rect x="168" y="310" width="1" height="3" fill="#32cd32" />
<rect x="172" y="290" width="1" height="31" fill="#ff0000" />
<rect x="171" y="295" width="3" height="17" fill="#ff0000" />
<rect x="172" y="296" width="1" height="15" fill="#ff4500" />
<rect x="176" y="283" width="1" height="18" fill="#ff0000" />
<rect x="175" y="292" width="3" height="4" fill="#ff0000" />
<rect x="176" y="293" width="1" height="2" fill="#ff4500" />
<rect x="180" y="272" width="1" height="27" fill="#ff0000" />
<rect x="179" y="273" width="3" height="20" fill="#ff0000" />
<rect x="180" y="274" width="1" height="18" fill="#ff4500" />
<rect x="184" y="259" width="1" height="32" fill="#1fc81f" />
<rect x="183" y="273" width="3" height="12" fill="#1fc81f" />
<rect x="184" y="274" width="1" height="10" fill="#32cd32" />
<rect x="188" y="274" width="1" height="18" fill="#1fc81f" />
<rect x="187" y="281" width="3" height="7" fill="#1fc81f" />
<rect x="188" y="282" width="1" height="5" fill="#32cd32" />
<rect x="192" y="270" width="1" height="21" fill="#ff0000" />
<rect x="191" y="272" width="3" height="16" fill="#ff0000" />
<rect x="192" y="273" width="1" height="14" fill="#ff4500" />
<rect x="196" y="270" width="1" height="25" fill="#1fc81f" />
<rect x="195" y="272" width="3" height="15" fill="#1fc81f" />
<rect x="196" y="273" width="1" height="13" fill="#32cd32" />
<rect x="200" y="279" width="1" height="21" fill="#1fc81f" />
<rect x="199" y="286" width="3" height="5" fill="#1fc81f" />
<rect x="200" y="287" width="1" height="3" fill="#32cd32" />
<rect x="204" y="272" width="1" height="26" fill="#ff0000" />
<rect x="203" y="278" width="3" height="13" fill="#ff0000" />
<rect x="204" y="279" width="1" height="11" fill="#ff4500" />
<rect x="208" y="248" width="1" height="32" fill="#ff0000" />
<rect x="207" y="262" width="3" height="17" fill="#ff0000" />
<rect x="208" y="263" width="1" height="15" fill="#ff4500" />
<rect x="212" y="257" width="1" height="16" fill="#1fc81f" />
<rect x="211" y="262" width="3" height="3" fill="#1fc81f" />
<rect x="212" y="263" width="1" height="1" fill="#32cd32" />
<rect x="216" y="220" width="1" height="66" fill="#ff0000" />
<rect x="215" y="225" width="3" height="40" fill="#ff0000" />
<rect x="216" y="226" width="1" height="38" fill="#ff4500" />
<rect x="220" y="192" width="1" height="54" fill="#ff0000" />
<rect x="219" y="208" width="3" height="18" fill="#ff0000" />
<rect x="220" y="209" width="1" height="16" fill="#ff4500" />
<rect x="224" y="194" width="1" height="28" fill="#ff0000" />
<rect x="223" y="201" width="3" height="8" fill="#ff0000" />
<rect x="224" y="202" width="1" height="6" fill="#ff4500" />
<rect x="228" y="174" width="1" height="35" fill="#ff0000" />
<rect x="227" y="189" width="3" height="16" fill="#ff0000" />
<rect x="228" y="190" width="1" height="14" fill="#ff4500" />
<rect x="232" y="166" width="1" height="30" fill="#ff0000" />
<rect x="231" y="179" width="3" height="11" fill="#ff0000" />
<rect x="232" y="180" width="1" height="9" fill="#ff4500" />
<rect x="236" y="156" width="1" height="28" fill="#ff0000" />
<rect x="235" y="175" width="3" height="5" fill="#ff0000" />
<rect x="236" y="176" width="1" height="3" fill="#ff4500" />
<rect x="240" y="166" width="1" height="26" fill="#1fc81f" />
<rect x="239" y="175" width="3" height="11" fill="#1fc81f" />
<rect x="240" y="176" width="1" height="9" fill="#32cd32" />
<rect x="244" y="183" width="1" height="26" fill="#1fc81f" />
<rect x="243" y="185" width="3" height="12" fill="#1fc81f" />
<rect x="244" y="186" width="1" height="10" fill="#32cd32" />
<rect x="248" y="187" width="1" height="16" fill="#ff0000" />
<rect x="247" y="197" width="3" height="4" fill="#ff0000" />
<rect x="248" y="198" width="1" height="2" fill="#ff4500" />
<rect x="252" y="183" width="1" height="20" fill="#ff0000" />
<rect x="251" y="192" width="3" height="6" fill="#ff0000" />
<rect x="252" y="193" width="1" height="4" fill="#ff4500" />
<rect x="256" y="186" width="1" height="15" fill="#ff0000" />
<rect x="255" y="188" width="3" height="5" fill="#ff0000" />
<rect x="256" y="189" width="1" height="3" fill="#ff4500" />
<rect x="260" y="180" width="1" height="17" fill="#ff0000" />
<rect x="259" y="180" width="3" height="10" fill="#ff0000" />
<rect x="260" y="181" width="1" height="8" fill="#ff4500" />
<rect x="264" y="160" width="1" height="28" fill="#1fc81f" />
<rect x="263" y="181" width="3" height="5" fill="#1fc81f" />
<rect x="264" y="182" width="1" height="3" fill="#32cd32" />
<rect x="268" y="179" width="1" height="21" fill="#1fc81f" />
<rect x="267" y="184" width="3" height="11" fill="#1fc81f" />
<rect x="268" y="185" width="1" height="9" fill="#32cd32" />
<rect x="272" y="167" width="1" height="34" fill="#ff0000" />
<rect x="271" y="177" width="3" height="18" fill="#ff0000" />
<rect x="272" y="178" width="1" height="16" fill="#ff4500" />
<rect x="276" y="169" width="1" height="24" fill="#1fc81f" />
<rect x="275" y="176" width="3" height="5" fill="#1fc81f" />
<rect x="276" y="177" width="1" height="3" fill="#32cd32" />
<rect x="280" y="149" width="1" height="34" fill="#ff0000" />
<rect x="279" y="161" width="3" height="20" fill="#ff0000" />
<rect x="280" y="162" width="1" height="18" fill="#ff4500" />
<rect x="284" y="149" width="1" height="25" fill="#1fc81f" />
<rect x="283" y="161" width="3" height="11" fill="#1fc81f" />
<rect x="284" y="162" width="1" height="9" fill="#32cd32" />
<rect x="288" y="170" width="1" height="13" fill="#1fc81f" />
<rect x="287" y="176" width="3" height="4" fill="#1fc81f" />
<rect x="288" y="177" width="1" height="2" fill="#32cd32" />
<rect x="292" y="171" width="1" height="20" fill="#ff0000" />
<rect x="291" y="173" width="3" height="7" fill="#ff0000" />
<rect x="292" y="174" width="1" height="5" fill="#ff4500" />
<rect x="296" y="168" width="1" height="43" fill="#1fc81f" />
<rect x="295" y="173" width="3" height="23" fill="#1fc81f" />
<rect x="296" y="174" width="1" height="21" fill="#32cd32" />
<rect x="300" y="185" width="1" height="18" fill="#ff0000" />
<rect x="299" y="193" width="3" height="3" fill="#ff0000" />
<rect x="300" y="194" width="1" height="1" fill="#ff4500" />
<rect x="304" y="170" width="1" height="27" fill="#ff0000" />
<rect x="303" y="182" width="3" height="13" fill="#ff0000" />
<rect x="304" y="183" width="1" height="11" fill="#ff4500" />
<rect x="308" y="152" width="1" height="29" fill="#ff0000" />
<rect x="307" y="156" width="3" height="24" fill="#ff0000" />
<rect x="308" y="157" width="1" height="22" fill="#ff4500" />
<rect x="312" y="155" width="1" height="19" fill="#1fc81f" />
<rect x="311" y="156" width="3" height="13" fill="#1fc81f" />
<rect x="312" y="157" width="1" height="11" fill="#32cd32" />
<rect x="316" y="165" width="1" height="35" fill="#1fc81f" />
<rect x="315" y="168" width="3" height="25" fill="#1fc81f" />
<rect x="316" y="169" width="1" height="23" fill="#32cd32" />
<rect x="320" y="176" width="1" height="19" fill="#ff0000" />
<rect x="319" y="181" width="3" height="12" fill="#ff0000" />
<rect x="320" y="182" width="1" height="10" fill="#ff4500" />
<rect x="324" y="165" width="1" height="23" fill="#ff0000" />
<rect x="323" y="178" width="3" height="3" fill="#ff0000" />
<rect x="324" y="179" width="1" height="1" fill="#ff4500" />
<rect x="328" y="156" width="1" height="25" fill="#ff0000" />
<rect x="327" y="172" width="3" height="8" fill="#ff0000" />
<rect x="328" y="173" width="1" height="6" fill="#ff4500" />
<rect x="332" y="114" width="1" height="61" fill="#ff0000" />
<rect x="331" y="123" width="3" height="51" fill="#ff0000" />
<rect x="332" y="124" width="1" height="49" fill="#ff4500" />
<rect x="336" y="122" width="1" height="49" fill="#1fc81f" />
<rect x="335" y="123" width="3" height="42" fill="#1fc81f" />
<rect x="336" y="124" width="1" height="40" fill="#32cd32" />
<rect x="340" y="158" width="1" height="46" fill="#1fc81f" />
<rect x="339" y="164" width="3" height="36" fill="#1fc81f" />
<rect x="340" y="165" width="1" height="34" fill="#32cd32" />
<rect x="344" y="182" width="1" height="28" fill="#ff0000" />
<rect x="343" y="191" width="3" height="9" fill="#ff0000" />
<rect x="344" y="192" width="1" height="7" fill="#ff4500" />
<rect x="348" y="183" width="1" height="17" fill="#1fc81f" />
<rect x="347" y="191" width="3" height="4" fill="#1fc81f" />
<rect x="348" y="192" width="1" height="2" fill="#32cd32" />
<rect x="352" y="187" width="1" height="12" fill="#ff0000" />
<rect x="351" y="192" width="3" height="3" fill="#ff0000" />
<rect x="352" y="193" width="1" height="1" fill="#ff4500" />
<rect x="356" y="190" width="1" height="17" fill="#1fc81f" />
<rect x="355" y="192" width="3" height="4" fill="#1fc81f" />
<rect x="356" y="193" width="1" height="2" fill="#32cd32" />
<rect x="360" y="192" width="1" height="14" fill="#1fc81f" />
<rect x="359" y="195" width="3" height="4" fill="#1fc81f" />
<rect x="360" y="196" width="1" height="2" fill="#32cd32" />
<rect x="364" y="169" width="1" height="31" fill="#ff0000" />
<rect x="363" y="176" width="3" height="23" fill="#ff0000" />
<rect x="364" y="177" width="1" height="21" fill="#ff4500" />
<rect x="368" y="164" width="1" height="18" fill="#ff0000" />
<rect x="367" y="168" width="3" height="4" fill="#ff0000" />
<rect x="368" y="169" width="1" height="2" fill="#ff4500" />
<rect x="372" y="163" width="1" height="13" fill="#ff0000" />
<rect x="371" y="165" width="3" height="5" fill="#ff0000" />
<rect x="372" y="166" width="1" height="3" fill="#ff4500" />
<rect x="376" y="158" width="1" height="26" fill="#1fc81f" />
<rect x="375" y="165" width="3" height="13" fill="#1fc81f" />
<rect x="376" y="166" width="1" height="11" fill="#32cd32" />
<rect x="380" y="171" width="1" height="12" fill="#ff0000" />
<rect x="379" y="176" width="3" height="3" fill="#ff0000" />
<rect x="380" y="177" width="1" height="1" fill="#ff4500" />
<rect x="384" y="167" width="1" height="14" fill="#1fc81f" />
<rect x="383" y="176" width="3" height="4" fill="#1fc81f" />
<rect x="384" y="177" width="1" height="2" fill="#32cd32" />
<rect x="388" y="172" width="1" height="12" fill="#1fc81f" />
<rect x="387" y="173" width="3" height="7" fill="#1fc81f" />
<rect x="388" y="174" width="1" height="5" fill="#32cd32" />
<rect x="392" y="153" width="1" height="28" fill="#ff0000" />
<rect x="391" y="159" width="3" height="21" fill="#ff0000" />
<rect x="392" y="160" width="1" height="19" fill="#ff4500" />
<rect x="396" y="157" width="1" height="19" fill="#1fc81f" />
<rect x="395" y="159" width="3" height="9" fill="#1fc81f" />
<rect x="396" y="160" width="1" height="7" fill="#32cd32" />
<rect x="400" y="144" width="1" height="25" fill="#ff0000" />
<rect x="399" y="150" width="3" height="18" fill="#ff0000" />
<rect x="400" y="151" width="1" height="16" fill="#ff4500" />
<rect x="404" y="137" width="1" height="19" fill="#1fc81f" />
<rect x="403" y="150" width="3" height="1" fill="#1fc81f" />
<rect x="408" y="149" width="1" height="33" fill="#1fc81f" />
<rect x="407" y="150" width="3" height="25" fill="#1fc81f" />
<rect x="408" y="151" width="1" height="23" fill="#32cd32" />
<rect x="412" y="167" width="1" height="26" fill="#1fc81f" />
<rect x="411" y="175" width="3" height="12" fill="#1fc81f" />
<rect x="412" y="176" width="1" height="10" fill="#32cd32" />
<rect x="416" y="175" width="1" height="15" fill="#ff0000" />
<rect x="415" y="186" width="3" height="2" fill="#ff0000" />
<rect x="420" y="167" width="1" height="21" fill="#ff0000" />
<rect x="419" y="171" width="3" height="16" fill="#ff0000" />
<rect x="420" y="172" width="1" height="14" fill="#ff4500" />
<rect x="424" y="166" width="1" height="35" fill="#1fc81f" />
<rect x="423" y="171" width="3" height="26" fill="#1fc81f" />
<rect x="424" y="172" width="1" height="24" fill="#32cd32" />
<rect x="428" y="188" width="1" height="10" fill="#ff0000" />
<rect x="427" y="191" width="3" height="4" fill="#ff0000" />
<rect x="428" y="192" width="1" height="2" fill="#ff4500" />
<rect x="432" y="184" width="1" height="32" fill="#1fc81f" />
<rect x="431" y="191" width="3" height="16" fill="#1fc81f" />
<rect x="432" y="192" width="1" height="14" fill="#32cd32" />
<rect x="436" y="193" width="1" height="23" fill="#1fc81f" />
<rect x="435" y="206" width="3" height="3" fill="#1fc81f" />
<rect x="436" y="207" width="1" height="1" fill="#32cd32" />
<rect x="440" y="199" width="1" height="17" fill="#1fc81f" />
<rect x="439" y="208" width="3" height="5" fill="#1fc81f" />
<rect x="440" y="209" width="1" height="3" fill="#32cd32" />
<rect x="444" y="202" width="1" height="41" fill="#1fc81f" />
<rect x="443" y="212" width="3" height="15" fill="#1fc81f" />
<rect x="444" y="213" width="1" height="13" fill="#32cd32" />
<rect x="448" y="205" width="1" height="21" fill="#ff0000" />
<rect x="447" y="211" width="3" height="15" fill="#ff0000" />
<rect x="448" y="212" width="1" height="13" fill="#ff4500" />
<rect x="452" y="192" width="1" height="22" fill="#ff0000" />
<rect x="451" y="197" width="3" height="15" fill="#ff0000" />
<rect x="452" y="198" width="1" height="13" fill="#ff4500" />
<rect x="456" y="194" width="1" height="14" fill="#1fc81f" />
<rect x="455" y="197" width="3" height="4" fill="#1fc81f" />
<rect x="456" y="198" width="1" height="2" fill="#32cd32" />
<rect x="460" y="195" width="1" height="21" fill="#1fc81f" />
<rect x="459" y="200" width="3" height="10" fill="#1fc81f" />
<rect x="460" y="201" width="1" height="8" fill="#32cd32" />
<rect x="464" y="205" width="1" height="36" fill="#1fc81f" />
<rect x="463" y="209" width="3" height="12" fill="#1fc81f" />
<rect x="464" y="210" width="1" height="10" fill="#32cd32" />
<rect x="468" y="206" width="1" height="17" fill="#ff0000" />
<rect x="467" y="220" width="3" height="3" fill="#ff0000" />
<rect x="468" y="221" width="1" height="1" fill="#ff4500" />
<rect x="472" y="214" width="1" height="23" fill="#1fc81f" />
<rect x="471" y="219" width="3" height="8" fill="#1fc81f" />
<rect x="472" y="220" width="1" height="6" fill="#32cd32" />
<rect x="476" y="219" width="1" height="24" fill="#1fc81f" />
<rect x="475" y="226" width="3" height="12" fill="#1fc81f" />
<rect x="476" y="227" width="1" height="10" fill="#32cd32" />
<rect x="480" y="205" width="1" height="35" fill="#ff0000" />
<rect x="479" y="207" width="3" height="32" fill="#ff0000" />
<rect x="480" y="208" width="1" height="30" fill="#ff4500" />
<rect x="484" y="183" width="1" height="36" fill="#ff0000" />
<rect x="483" y="186" width="3" height="22" fill="#ff0000" />
<rect x="484" y="187" width="1" height="20" fill="#ff4500" />
<rect x="488" y="164" width="1" height="23" fill="#ff0000" />
<rect x="487" y="172" width="3" height="11" fill="#ff0000" />
<rect x="488" y="173" width="1" height="9" fill="#ff4500" />
<rect x="492" y="164" width="1" height="20" fill="#ff0000" />
<rect x="491" y="168" width="3" height="5" fill="#ff0000" />
<rect x="492" y="169" width="1" height="3" fill="#ff4500" />
<rect x="496" y="165" width="1" height="42" fill="#1fc81f" />
<rect x="495" y="168" width="3" height="18" fill="#1fc81f" />
<rect x="496" y="169" width="1" height="16" fill="#32cd32" />
<rect x="500" y="180" width="1" height="30" fill="#1fc81f" />
<rect x="499" y="185" width="3" height="11" fill="#1fc81f" />
<rect x="500" y="186" width="1" height="9" fill="#32cd32" />
<rect x="504" y="182" width="1" height="22" fill="#ff0000" />
<rect x="503" y="193" width="3" height="3" fill="#ff0000" />
<rect x="504" y="194" width="1" height="1" fill="#ff4500" />
<rect x="508" y="187" width="1" height="20" fill="#1fc81f" />
<rect x="507" y="197" width="3" height="2" fill="#1fc81f" />
<rect x="512" y="184" width="1" height="24" fill="#ff0000" />
<rect x="511" y="185" width="3" height="15" fill="#ff0000" />
<rect x="512" y="186" width="1" height="13" fill="#ff4500" />
<rect x="516" y="174" width="1" height="18" fill="#ff0000" />
<rect x="515" y="176" width="3" height="10" fill="#ff0000" />
<rect x="516" y="177" width="1" height="8" fill="#ff4500" />
<rect x="520" y="174" width="1" height="43" fill="#1fc81f" />
<rect x="519" y="176" width="3" height="37" fill="#1fc81f" />
<rect x="520" y="177" width="1" height="35" fill="#32cd32" />
<rect x="524" y="196" width="1" height="42" fill="#1fc81f" />
<rect x="523" y="212" width="3" height="22" fill="#1fc81f" />
<rect x="524" y="213" width="1" height="20" fill="#32cd32" />
<rect x="528" y="200" width="1" height="24" fill="#ff0000" />
<rect x="527" y="210" width="3" height="10" fill="#ff0000" />
<rect x="528" y="211" width="1" height="8" fill="#ff4500" />
<rect x="532" y="199" width="1" height="22" fill="#1fc81f" />
<rect x="531" y="211" width="3" height="2" fill="#1fc81f" />
<rect x="536" y="185" width="1" height="31" fill="#ff0000" />
<rect x="535" y="204" width="3" height="9" fill="#ff0000" />
<rect x="536" y="205" width="1" height="7" fill="#ff4500" />
<rect x="540" y="202" width="1" height="12" fill="#1fc81f" />
<rect x="539" y="204" width="3" height="7" fill="#1fc81f" />
<rect x="540" y="205" width="1" height="5" fill="#32cd32" />
<rect x="544" y="204" width="1" height="18" fill="#1fc81f" />
<rect x="543" y="210" width="3" height="10" fill="#1fc81f" />
<rect x="544" y="211" width="1" height="8" fill="#32cd32" />
<rect x="548" y="198" width="1" height="31" fill="#ff0000" />
<rect x="547" y="200" width="3" height="17" fill="#ff0000" />
<rect x="548" y="201" width="1" height="15" fill="#ff4500" />
<rect x="552" y="193" width="1" height="20" fill="#1fc81f" />
<rect x="551" y="200" width="3" height="5" fill="#1fc81f" />
<rect x="552" y="201" width="1" height="3" fill="#32cd32" />
<rect x="556" y="203" width="1" height="39" fill="#1fc81f" />
<rect x="555" y="204" width="3" height="35" fill="#1fc81f" />
<rect x="556" y="205" width="1" height="33" fill="#32cd32" />
<rect x="560" y="223" width="1" height="19" fill="#ff0000" />
<rect x="559" y="228" width="3" height="10" fill="#ff0000" />
<rect x="560" y="229" width="1" height="8" fill="#ff4500" />
<rect x="564" y="225" width="1" height="21" fill="#1fc81f" />
<rect x="563" y="228" width="3" height="3" fill="#1fc81f" />
<rect x="564" y="229" width="1" height="1" fill="#32cd32" />
<rect x="568" y="224" width="1" height="19" fill="#1fc81f" />
<rect x="567" y="233" width="3" height="5" fill="#1fc81f" />
<rect x="568" y="234" width="1" height="3" fill="#32cd32" />
<rect x="572" y="236" width="1" height="75" fill="#1fc81f" />
<rect x="571" y="237" width="3" height="66" fill="#1fc81f" />
<rect x="572" y="238" width="1" height="64" fill="#32cd32" />
<rect x="576" y="278" width="1" height="28" fill="#ff0000" />
<rect x="575" y="281" width="3" height="22" fill="#ff0000" />
<rect x="576" y="282" width="1" height="20" fill="#ff4500" />
<rect x="580" y="272" width="1" height="23" fill="#ff0000" />
<rect x="579" y="280" width="3" height="2" fill="#ff0000" />
<rect x="584" y="274" width="1" height="27" fill="#1fc81f" />
<rect x="583" y="279" width="3" height="13" fill="#1fc81f" />
<rect x="584" y="280" width="1" height="11" fill="#32cd32" />
<rect x="588" y="286" width="1" height="18" fill="#1fc81f" />
<rect x="587" y="293" width="3" height="4" fill="#1fc81f" />
<rect x="588" y="294" width="1" height="2" fill="#32cd32" />
<rect x="592" y="291" width="1" height="13" fill="#1fc81f" />
<rect x="591" y="296" width="3" height="3" fill="#1fc81f" />
<rect x="592" y="297" width="1" height="1" fill="#32cd32" />
<rect x="596" y="276" width="1" height="27" fill="#ff0000" />
<rect x="595" y="279" width="3" height="20" fill="#ff0000" />
<rect x="596" y="280" width="1" height="18" fill="#ff4500" />
<rect x="600" y="266" width="1" height="25" fill="#1fc81f" />
<rect x="599" y="279" width="3" height="8" fill="#1fc81f" />
<rect x="600" y="280" width="1" height="6" fill="#32cd32" />
<rect x="604" y="258" width="1" height="38" fill="#ff0000" />
<rect x="603" y="262" width="3" height="24" fill="#ff0000" />
<rect x="604" y="263" width="1" height="22" fill="#ff4500" />
<rect x="608" y="261" width="1" height="21" fill="#1fc81f" />
<rect x="607" y="263" width="3" height="16" fill="#1fc81f" />
<rect x="608" y="264" width="1" height="14" fill="#32cd32" />
<rect x="612" y="267" width="1" height="17" fill="#ff0000" />
<rect x="611" y="270" width="3" height="9" fill="#ff0000" />
<rect x="612" y="271" width="1" height="7" fill="#ff4500" />
<rect x="616" y="264" width="1" height="20" fill="#1fc81f" />
<rect x="615" y="269" width="3" height="13" fill="#1fc81f" />
<rect x="616" y="270" width="1" height="11" fill="#32cd32" />
<rect x="620" y="269" width="1" height="16" fill="#ff0000" />
<rect x="619" y="277" width="3" height="6" fill="#ff0000" />
<rect x="620" y="278" width="1" height="4" fill="#ff4500" />
<rect x="624" y="263" width="1" height="18" fill="#ff0000" />
<rect x="623" y="274" width="3" height="5" fill="#ff0000" />
<rect x="624" y="275" width="1" height="3" fill="#ff4500" />
<rect x="628" y="273" width="1" height="20" fill="#1fc81f" />
<rect x="627" y="276" width="3" height="11" fill="#1fc81f" />
<rect x="628" y="277" width="1" height="9" fill="#32cd32" />
<rect x="632" y="275" width="1" height="16" fill="#1fc81f" />
<rect x="631" y="286" width="3" height="4" fill="#1fc81f" />
<rect x="632" y="287" width="1" height="2" fill="#32cd32" />
<rect x="636" y="270" width="1" height="21" fill="#ff0000" />
<rect x="635" y="273" width="3" height="15" fill="#ff0000" />
<rect x="636" y="274" width="1" height="13" fill="#ff4500" />
<rect x="640" y="262" width="1" height="30" fill="#1fc81f" />
<rect x="639" y="272" width="3" height="10" fill="#1fc81f" />
<rect x="640" y="273" width="1" height="8" fill="#32cd32" />
<rect x="644" y="280" width="1" height="28" fill="#1fc81f" />
<rect x="643" y="281" width="3" height="14" fill="#1fc81f" />
<rect x="644" y="282" width="1" height="12" fill="#32cd32" />
<rect x="648" y="290" width="1" height="16" fill="#ff0000" />
<rect x="647" y="294" width="3" height="6" fill="#ff0000" />
<rect x="648" y="295" width="1" height="4" fill="#ff4500" />
<rect x="652" y="275" width="1" height="45" fill="#ff0000" />
<rect x="651" y="283" width="3" height="12" fill="#ff0000" />
<rect x="652" y="284" width="1" height="10" fill="#ff4500" />
<rect x="656" y="280" width="1" height="27" fill="#1fc81f" />
<rect x="655" y="282" width="3" height="21" fill="#1fc81f" />
<rect x="656" y="283" width="1" height="19" fill="#32cd32" />
<rect x="660" y="284" width="1" height="21" fill="#ff0000" />
<rect x="659" y="297" width="3" height="6" fill="#ff0000" />
<rect x="660" y="298" width="1" height="4" fill="#ff4500" />
<rect x="664" y="278" width="1" height="21" fill="#ff0000" />
<rect x="663" y="282" width="3" height="16" fill="#ff0000" />
<rect x="664" y="283" width="1" height="14" fill="#ff4500" />
<rect x="668" y="278" width="1" height="23" fill="#1fc81f" />
<rect x="667" y="281" width="3" height="7" fill="#1fc81f" />
<rect x="668" y="282" width="1" height="5" fill="#32cd32" />
<rect x="672" y="278" width="1" height="15" fill="#ff0000" />
<rect x="671" y="283" width="3" height="3" fill="#ff0000" />
<rect x="672" y="284" width="1" height="1" fill="#ff4500" />
<rect x="676" y="274" width="1" height="15" fill="#ff0000" />
<rect x="675" y="278" width="3" height="7" fill="#ff0000" />
<rect x="676" y="279" width="1" height="5" fill="#ff4500" />
<rect x="680" y="277" width="1" height="14" fill="#1fc81f" />
<rect x="679" y="278" width="3" height="7" fill="#1fc81f" />
<rect x="680" y="279" width="1" height="5" fill="#32cd32" />
<rect x="684" y="272" width="1" height="15" fill="#ff0000" />
<rect x="683" y="274" width="3" height="11" fill="#ff0000" />
<rect x="684" y="275" width="1" height="9" fill="#ff4500" />
<rect x="688" y="278" width="1" height="18" fill="#1fc81f" />
<rect x="687" y="278" width="3" height="14" fill="#1fc81f" />
<rect x="688" y="279" width="1" height="12" fill="#32cd32" />
<rect x="692" y="291" width="1" height="27" fill="#1fc81f" />
<rect x="691" y="291" width="3" height="23" fill="#1fc81f" />
<rect x="692" y="292" width="1" height="21" fill="#32cd32" />
<rect x="696" y="303" width="1" height="15" fill="#ff0000" />
<rect x="695" y="307" width="3" height="5" fill="#ff0000" />
<rect x="696" y="308" width="1" height="3" fill="#ff4500" />
<rect x="700" y="299" width="1" height="14" fill="#ff0000" />
<rect x="699" y="306" width="3" height="3" fill="#ff0000" />
<rect x="700" y="307" width="1" height="1" fill="#ff4500" />
<rect x="704" y="297" width="1" height="17" fill="#ff0000" />
<rect x="703" y="304" width="3" height="2" fill="#ff0000" />
<rect x="708" y="297" width="1" height="13" fill="#ff0000" />
<rect x="707" y="303" width="3" height="1" fill="#ff0000" />
<rect x="712" y="301" width="1" height="21" fill="#1fc81f" />
<rect x="711" y="303" width="3" height="14" fill="#1fc81f" />
<rect x="712" y="304" width="1" height="12" fill="#32cd32" />
<rect x="716" y="315" width="1" height="43" fill="#1fc81f" />
<rect x="715" y="316" width="3" height="24" fill="#1fc81f" />
<rect x="716" y="317" width="1" height="22" fill="#32cd32" />
<rect x="720" y="292" width="1" height="55" fill="#ff0000" />
<rect x="719" y="301" width="3" height="39" fill="#ff0000" />
<rect x="720" y="302" width="1" height="37" fill="#ff4500" />
<rect x="724" y="285" width="1" height="32" fill="#1fc81f" />
<rect x="723" y="300" width="3" height="2" fill="#1fc81f" />
<rect x="728" y="301" width="1" height="16" fill="#1fc81f" />
<rect x="727" y="302" width="3" height="4" fill="#1fc81f" />
<rect x="728" y="303" width="1" height="2" fill="#32cd32" />
<rect x="732" y="303" width="1" height="10" fill="#1fc81f" />
<rect x="731" y="304" width="3" height="3" fill="#1fc81f" />
<rect x="732" y="305" width="1" height="1" fill="#32cd32" />
<rect x="736" y="295" width="1" height="17" fill="#ff0000" />
<rect x="735" y="302" width="3" height="5" fill="#ff0000" />
<rect x="736" y="303" width="1" height="3" fill="#ff4500" />
<rect x="740" y="295" width="1" height="14" fill="#ff0000" />
<rect x="739" y="299" width="3" height="3" fill="#ff0000" />
<rect x="740" y="300" width="1" height="1" fill="#ff4500" />
<rect x="744" y="279" width="1" height="25" fill="#ff0000" />
<rect x="743" y="290" width="3" height="8" fill="#ff0000" />
<rect x="744" y="291" width="1" height="6" fill="#ff4500" />
<rect x="748" y="284" width="1" height="13" fill="#1fc81f" />
<rect x="747" y="287" width="3" height="6" fill="#1fc81f" />
<rect x="748" y="288" width="1" height="4" fill="#32cd32" />
<rect x="752" y="290" width="1" height="14" fill="#1fc81f" />
<rect x="751" y="292" width="3" height="8" fill="#1fc81f" />
<rect x="752" y="293" width="1" height="6" fill="#32cd32" />
<rect x="756" y="294" width="1" height="9" fill="#1fc81f" />
<rect x="755" y="299" width="3" height="2" fill="#1fc81f" />
<rect x="760" y="297" width="1" height="11" fill="#1fc81f" />
<rect x="759" y="300" width="3" height="3" fill="#1fc81f" />
<rect x="760" y="301" width="1" height="1" fill="#32cd32" />
<rect x="764" y="297" width="1" height="9" fill="#1fc81f" />
<rect x="763" y="302" width="3" height="2" fill="#1fc81f" />
<rect x="768" y="300" width="1" height="11" fill="#ff0000" />
<rect x="767" y="304" width="3" height="3" fill="#ff0000" />
<rect x="768" y="305" width="1" height="1" fill="#ff4500" />
<rect x="772" y="299" width="1" height="12" fill="#1fc81f" />
<rect x="771" y="304" width="3" height="3" fill="#1fc81f" />
<rect x="772" y="305" width="1" height="1" fill="#32cd32" />
<rect x="776" y="303" width="1" height="13" fill="#1fc81f" />
<rect x="775" y="305" width="3" height="6" fill="#1fc81f" />
<rect x="776" y="306" width="1" height="4" fill="#32cd32" />
<rect x="780" y="297" width="1" height="17" fill="#ff0000" />
<rect x="779" y="301" width="3" height="10" fill="#ff0000" />
<rect x="780" y="302" width="1" height="8" fill="#ff4500" />
<rect x="784" y="298" width="1" height="51" fill="#1fc81f" />
<rect x="783" y="302" width="3" height="15" fill="#1fc81f" />
<rect x="784" y="303" width="1" height="13" fill="#32cd32" />
<rect x="788" y="302" width="1" height="31" fill="#ff0000" />
<rect x="787" y="308" width="3" height="15" fill="#ff0000" />
<rect x="788" y="309" width="1" height="13" fill="#ff4500" />
<rect x="792" y="293" width="1" height="18" fill="#ff0000" />
<rect x="791" y="304" width="3" height="4" fill="#ff0000" />
<rect x="792" y="305" width="1" height="2" fill="#ff4500" />
<rect x="796" y="299" width="1" height="15" fill="#1fc81f" />
<rect x="795" y="304" width="3" height="1" fill="#1fc81f" />
<rect x="800" y="275" width="1" height="32" fill="#ff0000" />
<rect x="799" y="282" width="3" height="23" fill="#ff0000" />
<rect x="800" y="283" width="1" height="21" fill="#ff4500" />
<rect x="804" y="281" width="1" height="19" fill="#1fc81f" />
<rect x="803" y="282" width="3" height="12" fill="#1fc81f" />
<rect x="804" y="283" width="1" height="10" fill="#32cd32" />
<rect x="808" y="289" width="1" height="12" fill="#1fc81f" />
<rect x="807" y="294" width="3" height="4" fill="#1fc81f" />
<rect x="808" y="295" width="1" height="2" fill="#32cd32" />
<rect x="812" y="291" width="1" height="10" fill="#1fc81f" />
<rect x="811" y="296" width="3" height="4" fill="#1fc81f" />
<rect x="812" y="297" width="1" height="2" fill="#32cd32" />
<rect x="816" y="299" width="1" height="23" fill="#1fc81f" />
<rect x="815" y="300" width="3" height="18" fill="#1fc81f" />
<rect x="816" y="301" width="1" height="16" fill="#32cd32" />
<rect x="820" y="310" width="1" height="15" fill="#1fc81f" />
<rect x="819" y="317" width="3" height="2" fill="#1fc81f" />
<rect x="824" y="313" width="1" height="30" fill="#1fc81f" />
<rect x="823" y="318" width="3" height="9" fill="#1fc81f" />
<rect x="824" y="319" width="1" height="7" fill="#32cd32" />
<rect x="828" y="315" width="1" height="21" fill="#1fc81f" />
<rect x="827" y="326" width="3" height="7" fill="#1fc81f" />
<rect x="828" y="327" width="1" height="5" fill="#32cd32" />
<rect x="832" y="318" width="1" height="28" fill="#ff0000" />
<rect x="831" y="322" width="3" height="10" fill="#ff0000" />
<rect x="832" y="323" width="1" height="8" fill="#ff4500" />
<rect x="836" y="318" width="1" height="18" fill="#1fc81f" />
<rect x="835" y="322" width="3" height="9" fill="#1fc81f" />
<rect x="836" y="323" width="1" height="7" fill="#32cd32" />
<rect x="840" y="329" width="1" height="15" fill="#1fc81f" />
<rect x="839" y="330" width="3" height="6" fill="#1fc81f" />
<rect x="840" y="331" width="1" height="4" fill="#32cd32" />
<rect x="844" y="330" width="1" height="19" fill="#1fc81f" />
<rect x="843" y="335" width="3" height="8" fill="#1fc81f" />
<rect x="844" y="336" width="1" height="6" fill="#32cd32" />
<rect x="848" y="343" width="1" height="23" fill="#1fc81f" />
<rect x="847" y="345" width="3" height="10" fill="#1fc81f" />
<rect x="848" y="346" width="1" height="8" fill="#32cd32" />
<rect x="852" y="347" width="1" height="13" fill="#1fc81f" />
<rect x="851" y="354" width="3" height="4" fill="#1fc81f" />
<rect x="852" y="355" width="1" height="2" fill="#32cd32" />
<rect x="856" y="346" width="1" height="20" fill="#ff0000" />
<rect x="855" y="350" width="3" height="8" fill="#ff0000" />
<rect x="856" y="351" width="1" height="6" fill="#ff4500" />
<rect x="860" y="302" width="1" height="49" fill="#ff0000" />
<rect x="859" y="310" width="3" height="41" fill="#ff0000" />
<rect x="860" y="311" width="1" height="39" fill="#ff4500" />
<rect x="864" y="305" width="1" height="20" fill="#ff0000" />
<rect x="863" y="307" width="3" height="3" fill="#ff0000" />
<rect x="864" y="308" width="1" height="1" fill="#ff4500" />
<rect x="868" y="289" width="1" height="27" fill="#ff0000" />
<rect x="867" y="306" width="3" height="8" fill="#ff0000" />
<rect x="868" y="307" width="1" height="6" fill="#ff4500" />
<rect x="872" y="302" width="1" height="15" fill="#1fc81f" />
<rect x="871" y="307" width="3" height="3" fill="#1fc81f" />
<rect x="872" y="308" width="1" height="1" fill="#32cd32" />
<rect x="876" y="302" width="1" height="26" fill="#1fc81f" />
<rect x="875" y="309" width="3" height="15" fill="#1fc81f" />
<rect x="876" y="310" width="1" height="13" fill="#32cd32" />
<rect x="880" y="307" width="1" height="27" fill="#1fc81f" />
<rect x="879" y="324" width="3" height="8" fill="#1fc81f" />
<rect x="880" y="325" width="1" height="6" fill="#32cd32" />
<rect x="884" y="310" width="1" height="26" fill="#ff0000" />
<rect x="883" y="317" width="3" height="15" fill="#ff0000" />
<rect x="884" y="318" width="1" height="13" fill="#ff4500" />
<rect x="888" y="310" width="1" height="15" fill="#ff0000" />
<rect x="887" y="319" width="3" height="2" fill="#ff0000" />
<rect x="892" y="301" width="1" height="25" fill="#ff0000" />
<rect x="891" y="312" width="3" height="8" fill="#ff0000" />
<rect x="892" y="313" width="1" height="6" fill="#ff4500" />
<rect x="896" y="308" width="1" height="14" fill="#1fc81f" />
<rect x="895" y="313" width="3" height="5" fill="#1fc81f" />
<rect x="896" y="314" width="1" height="3" fill="#32cd32" />
<rect x="900" y="310" width="1" height="23" fill="#ff0000" />
<rect x="899" y="315" width="3" height="3" fill="#ff0000" />
<rect x="900" y="316" width="1" height="1" fill="#ff4500" />
<rect x="904" y="309" width="1" height="21" fill="#ff0000" />
<rect x="903" y="311" width="3" height="5" fill="#ff0000" />
<rect x="904" y="312" width="1" height="3" fill="#ff4500" />
<rect x="908" y="312" width="1" height="18" fill="#1fc81f" />
<rect x="907" y="313" width="3" height="13" fill="#1fc81f" />
<rect x="908" y="314" width="1" height="11" fill="#32cd32" />
<rect x="912" y="322" width="1" height="8" fill="#1fc81f" />
<rect x="911" y="325" width="3" height="3" fill="#1fc81f" />
<rect x="912" y="326" width="1" height="1" fill="#32cd32" />
</g>
</g>
<g shape-rendering="crispEdges">
<rect x="1152" y="197" width="39" height="11" fill="#ff0000" />
<rect x="1152" y="252" width="39" height="11" fill="#ff0000" />
<rect x="1152" y="307" width="39" height="11" fill="#00ff00" />
<rect x="1152" y="362" width="39" height="11" fill="#0000ff" />
<rect x="1152" y="322" width="39" height="11" fill="#000" />
</g>
<text x="1156" y="206" font-size="10.1" fill="#fff" textLength="33" lengthAdjust="spacingAndGlyphs" stroke="#fff" stroke-width="0.3">6.45515</text>
<text x="1156" y="261" font-size="10.1" fill="#fff" textLength="33" lengthAdjust="spacingAndGlyphs" stroke="#fff" stroke-width="0.3">6.41043</text>
<text x="1156" y="316" font-size="10.1" fill="#fff" textLength="33" lengthAdjust="spacingAndGlyphs" stroke="#fff" stroke-width="0.3">6.36570</text>
<text x="1156" y="371" font-size="10.1" fill="#fff" textLength="33" lengthAdjust="spacingAndGlyphs" stroke="#fff" stroke-width="0.3">6.32098</text>
<text x="1156" y="331" font-size="10.1" fill="#fff" textLength="33" lengthAdjust="spacingAndGlyphs" stroke="#fff" stroke-width="0.3">6.35393</text>
<g shape-rendering="crispEdges">
<rect x="4" y="25" width="224" height="78" fill="#fff" />
<rect x="4" y="42" width="1" height="37" fill="#ff2a00" />
</g>
<path d="M6.9 35.3 L10.5 30.5 L14.1 35.3 Z" fill="#000"/>
<text x="19.1" y="36" font-size="10.1" fill="#000" textLength="68.5" lengthAdjust="spacingAndGlyphs" stroke="#000" stroke-width="0.15">USDCNH-,Daily</text>
<text x="94.2" y="36" font-size="10.1" fill="#000" textLength="140.7" lengthAdjust="spacingAndGlyphs" stroke="#000" stroke-width="0.15">6.35592 6.35797 6.35259 6.35393</text>
<g shape-rendering="crispEdges">
<rect x="7" y="44" width="52" height="24" fill="url(#gTop)" />
<rect x="7" y="68" width="109" height="33" fill="url(#gBot)" />
<rect x="174" y="44" width="52" height="24" fill="url(#gTop)" />
<rect x="118" y="68" width="108" height="33" fill="url(#gBot)" />
<rect x="7" y="44" width="52" height="1" fill="#b00000" opacity="0.8"/>
<rect x="7" y="44" width="1" height="57" fill="#b00000" opacity="0.8"/>
<rect x="58" y="44" width="1" height="24" fill="#b00000" opacity="0.8"/>
<rect x="58" y="68" width="58" height="1" fill="#b00000" opacity="0.8"/>
<rect x="115" y="68" width="1" height="33" fill="#b00000" opacity="0.8"/>
<rect x="7" y="100" width="109" height="1" fill="#b00000" opacity="0.8"/>
<rect x="174" y="44" width="52" height="1" fill="#b00000" opacity="0.8"/>
<rect x="174" y="44" width="1" height="24" fill="#b00000" opacity="0.8"/>
<rect x="225" y="44" width="1" height="57" fill="#b00000" opacity="0.8"/>
<rect x="118" y="68" width="57" height="1" fill="#b00000" opacity="0.8"/>
<rect x="118" y="68" width="1" height="33" fill="#b00000" opacity="0.8"/>
<rect x="118" y="100" width="108" height="1" fill="#b00000" opacity="0.8"/>
<rect x="11" y="67" width="44" height="1" fill="#a00608" />
<rect x="11" y="68" width="44" height="1" fill="#f58a8a" />
<rect x="178" y="67" width="44" height="1" fill="#a00608" />
<rect x="178" y="68" width="44" height="1" fill="#f58a8a" />
<rect x="61" y="44" width="111" height="22" fill="#a3a6b0" />
<rect x="62" y="45" width="109" height="20" fill="#fff" />
<rect x="63" y="46" width="18" height="18" fill="url(#gBtn)" />
<rect x="152" y="46" width="18" height="18" fill="url(#gBtn)" />
<rect x="82" y="45" width="1" height="20" fill="#a3a6b0" />
<rect x="150" y="45" width="1" height="20" fill="#a3a6b0" />
</g>
<path d="M68.8 52.8 L74.2 52.8 L71.5 56.2 Z" fill="#4257c2"/>
<path d="M157.8 56.2 L163.2 56.2 L160.5 52.8 Z" fill="#4257c2"/>
<text x="146.3" y="59.5" font-size="12.3" fill="#000" text-anchor="end" textLength="23" lengthAdjust="spacingAndGlyphs">3.00</text>
<text x="18.9" y="59.6" font-size="12.3" fill="#fff" textLength="26.6" lengthAdjust="spacingAndGlyphs">SELL</text>
<text x="187.6" y="59.6" font-size="12.3" fill="#fff" textLength="23.2" lengthAdjust="spacingAndGlyphs">BUY</text>
<text x="27" y="95.8" font-size="12.1" fill="#fff" textLength="23.2" lengthAdjust="spacingAndGlyphs" font-weight="bold">6.35</text>
<text x="137.5" y="95.8" font-size="12.1" fill="#fff" textLength="23.2" lengthAdjust="spacingAndGlyphs" font-weight="bold">6.35</text>
<text x="53.9" y="96.0" font-size="35.2" fill="#fff" textLength="37.2" lengthAdjust="spacingAndGlyphs" stroke="url(#gBotU)" stroke-width="0.75">39</text>
<text x="165.4" y="96.0" font-size="35.2" fill="#fff" textLength="36.2" lengthAdjust="spacingAndGlyphs" stroke="url(#gBotU)" stroke-width="0.75">59</text>
<text x="94.6" y="79.6" font-size="12.2" fill="#fff" textLength="5.8" lengthAdjust="spacingAndGlyphs" font-weight="bold">3</text>
<text x="205.6" y="79.6" font-size="12.2" fill="#fff" textLength="5.8" lengthAdjust="spacingAndGlyphs" font-weight="bold">5</text>
<g clip-path="url(#cMacd)">
<g shape-rendering="crispEdges">
<rect x="3" y="380" width="3" height="25" fill="#c0c0c0" />
<rect x="7" y="381" width="3" height="24" fill="#c0c0c0" />
<rect x="11" y="382" width="3" height="23" fill="#c0c0c0" />
<rect x="15" y="383" width="3" height="22" fill="#c0c0c0" />
<rect x="19" y="384" width="3" height="21" fill="#c0c0c0" />
<rect x="23" y="384" width="3" height="21" fill="#c0c0c0" />
<rect x="27" y="386" width="3" height="19" fill="#c0c0c0" />
<rect x="31" y="388" width="3" height="17" fill="#c0c0c0" />
<rect x="35" y="391" width="3" height="14" fill="#c0c0c0" />
<rect x="39" y="394" width="3" height="11" fill="#c0c0c0" />
<rect x="43" y="397" width="3" height="8" fill="#c0c0c0" />
<rect x="47" y="400" width="3" height="5" fill="#c0c0c0" />
<rect x="51" y="403" width="3" height="2" fill="#c0c0c0" />
<rect x="55" y="405" width="3" height="1" fill="#c0c0c0" />
<rect x="59" y="405" width="3" height="4" fill="#c0c0c0" />
<rect x="63" y="405" width="3" height="6" fill="#c0c0c0" />
<rect x="67" y="405" width="3" height="9" fill="#c0c0c0" />
<rect x="71" y="405" width="3" height="11" fill="#c0c0c0" />
<rect x="75" y="405" width="3" height="13" fill="#c0c0c0" />
<rect x="79" y="405" width="3" height="15" fill="#c0c0c0" />
<rect x="83" y="405" width="3" height="16" fill="#c0c0c0" />
<rect x="87" y="405" width="3" height="16" fill="#c0c0c0" />
<rect x="91" y="405" width="3" height="15" fill="#c0c0c0" />
<rect x="95" y="405" width="3" height="15" fill="#c0c0c0" />
<rect x="99" y="405" width="3" height="15" fill="#c0c0c0" />
<rect x="103" y="405" width="3" height="20" fill="#c0c0c0" />
<rect x="107" y="405" width="3" height="23" fill="#c0c0c0" />
<rect x="111" y="405" width="3" height="24" fill="#c0c0c0" />
<rect x="115" y="405" width="3" height="23" fill="#c0c0c0" />
<rect x="119" y="405" width="3" height="22" fill="#c0c0c0" />
<rect x="123" y="405" width="3" height="22" fill="#c0c0c0" />
<rect x="127" y="405" width="3" height="21" fill="#c0c0c0" />
<rect x="131" y="405" width="3" height="22" fill="#c0c0c0" />
<rect x="135" y="405" width="3" height="22" fill="#c0c0c0" />
<rect x="139" y="405" width="3" height="21" fill="#c0c0c0" />
<rect x="143" y="405" width="3" height="21" fill="#c0c0c0" />
<rect x="147" y="405" width="3" height="21" fill="#c0c0c0" />
<rect x="151" y="405" width="3" height="22" fill="#c0c0c0" />
<rect x="155" y="405" width="3" height="25" fill="#c0c0c0" />
<rect x="159" y="405" width="3" height="28" fill="#c0c0c0" />
<rect x="163" y="405" width="3" height="30" fill="#c0c0c0" />
<rect x="167" y="405" width="3" height="32" fill="#c0c0c0" />
<rect x="171" y="405" width="3" height="31" fill="#c0c0c0" />
<rect x="175" y="405" width="3" height="30" fill="#c0c0c0" />
<rect x="179" y="405" width="3" height="28" fill="#c0c0c0" />
<rect x="183" y="405" width="3" height="27" fill="#c0c0c0" />
<rect x="187" y="405" width="3" height="26" fill="#c0c0c0" />
<rect x="191" y="405" width="3" height="24" fill="#c0c0c0" />
<rect x="195" y="405" width="3" height="23" fill="#c0c0c0" />
<rect x="199" y="405" width="3" height="22" fill="#c0c0c0" />
<rect x="203" y="405" width="3" height="20" fill="#c0c0c0" />
<rect x="207" y="405" width="3" height="17" fill="#c0c0c0" />
<rect x="211" y="405" width="3" height="15" fill="#c0c0c0" />
<rect x="215" y="405" width="3" height="11" fill="#c0c0c0" />
<rect x="219" y="405" width="3" height="6" fill="#c0c0c0" />
<rect x="223" y="405" width="3" height="1" fill="#c0c0c0" />
<rect x="227" y="402" width="3" height="3" fill="#c0c0c0" />
<rect x="231" y="398" width="3" height="7" fill="#c0c0c0" />
<rect x="235" y="395" width="3" height="10" fill="#c0c0c0" />
<rect x="239" y="393" width="3" height="12" fill="#c0c0c0" />
<rect x="243" y="392" width="3" height="13" fill="#c0c0c0" />
<rect x="247" y="392" width="3" height="13" fill="#c0c0c0" />
<rect x="251" y="392" width="3" height="13" fill="#c0c0c0" />
<rect x="255" y="392" width="3" height="13" fill="#c0c0c0" />
<rect x="259" y="391" width="3" height="14" fill="#c0c0c0" />
<rect x="263" y="391" width="3" height="14" fill="#c0c0c0" />
<rect x="267" y="392" width="3" height="13" fill="#c0c0c0" />
<rect x="271" y="391" width="3" height="14" fill="#c0c0c0" />
<rect x="275" y="391" width="3" height="14" fill="#c0c0c0" />
<rect x="279" y="390" width="3" height="15" fill="#c0c0c0" />
<rect x="283" y="390" width="3" height="15" fill="#c0c0c0" />
<rect x="287" y="391" width="3" height="14" fill="#c0c0c0" />
<rect x="291" y="392" width="3" height="13" fill="#c0c0c0" />
<rect x="295" y="393" width="3" height="12" fill="#c0c0c0" />
<rect x="299" y="395" width="3" height="10" fill="#c0c0c0" />
<rect x="303" y="395" width="3" height="10" fill="#c0c0c0" />
<rect x="307" y="394" width="3" height="11" fill="#c0c0c0" />
<rect x="311" y="394" width="3" height="11" fill="#c0c0c0" />
<rect x="315" y="396" width="3" height="9" fill="#c0c0c0" />
<rect x="319" y="396" width="3" height="9" fill="#c0c0c0" />
<rect x="323" y="397" width="3" height="8" fill="#c0c0c0" />
<rect x="327" y="397" width="3" height="8" fill="#c0c0c0" />
<rect x="331" y="394" width="3" height="11" fill="#c0c0c0" />
<rect x="335" y="394" width="3" height="11" fill="#c0c0c0" />
<rect x="339" y="397" width="3" height="8" fill="#c0c0c0" />
<rect x="343" y="399" width="3" height="6" fill="#c0c0c0" />
<rect x="347" y="400" width="3" height="5" fill="#c0c0c0" />
<rect x="351" y="402" width="3" height="3" fill="#c0c0c0" />
<rect x="355" y="403" width="3" height="2" fill="#c0c0c0" />
<rect x="359" y="404" width="3" height="1" fill="#c0c0c0" />
<rect x="363" y="404" width="3" height="1" fill="#c0c0c0" />
<rect x="367" y="403" width="3" height="2" fill="#c0c0c0" />
<rect x="371" y="402" width="3" height="3" fill="#c0c0c0" />
<rect x="375" y="402" width="3" height="3" fill="#c0c0c0" />
<rect x="379" y="402" width="3" height="3" fill="#c0c0c0" />
<rect x="383" y="402" width="3" height="3" fill="#c0c0c0" />
<rect x="387" y="402" width="3" height="3" fill="#c0c0c0" />
<rect x="391" y="401" width="3" height="4" fill="#c0c0c0" />
<rect x="395" y="401" width="3" height="4" fill="#c0c0c0" />
<rect x="399" y="400" width="3" height="5" fill="#c0c0c0" />
<rect x="403" y="399" width="3" height="6" fill="#c0c0c0" />
<rect x="407" y="400" width="3" height="5" fill="#c0c0c0" />
<rect x="411" y="402" width="3" height="3" fill="#c0c0c0" />
<rect x="415" y="403" width="3" height="2" fill="#c0c0c0" />
<rect x="419" y="404" width="3" height="1" fill="#c0c0c0" />
<rect x="423" y="404" width="3" height="1" fill="#c0c0c0" />
<rect x="427" y="405" width="3" height="2" fill="#c0c0c0" />
<rect x="431" y="405" width="3" height="3" fill="#c0c0c0" />
<rect x="435" y="405" width="3" height="4" fill="#c0c0c0" />
<rect x="439" y="405" width="3" height="6" fill="#c0c0c0" />
<rect x="443" y="405" width="3" height="8" fill="#c0c0c0" />
<rect x="447" y="405" width="3" height="8" fill="#c0c0c0" />
<rect x="451" y="405" width="3" height="7" fill="#c0c0c0" />
<rect x="455" y="405" width="3" height="7" fill="#c0c0c0" />
<rect x="459" y="405" width="3" height="7" fill="#c0c0c0" />
<rect x="463" y="405" width="3" height="8" fill="#c0c0c0" />
<rect x="467" y="405" width="3" height="10" fill="#c0c0c0" />
<rect x="471" y="405" width="3" height="10" fill="#c0c0c0" />
<rect x="475" y="405" width="3" height="12" fill="#c0c0c0" />
<rect x="479" y="405" width="3" height="11" fill="#c0c0c0" />
<rect x="483" y="405" width="3" height="8" fill="#c0c0c0" />
<rect x="487" y="405" width="3" height="4" fill="#c0c0c0" />
<rect x="491" y="405" width="3" height="1" fill="#c0c0c0" />
<rect x="495" y="405" width="3" height="1" fill="#c0c0c0" />
<rect x="499" y="405" width="3" height="1" fill="#c0c0c0" />
<rect x="503" y="405" width="3" height="1" fill="#c0c0c0" />
<rect x="507" y="405" width="3" height="1" fill="#c0c0c0" />
<rect x="511" y="405" width="3" height="1" fill="#c0c0c0" />
<rect x="515" y="404" width="3" height="1" fill="#c0c0c0" />
<rect x="519" y="405" width="3" height="1" fill="#c0c0c0" />
<rect x="523" y="405" width="3" height="3" fill="#c0c0c0" />
<rect x="527" y="405" width="3" height="3" fill="#c0c0c0" />
<rect x="531" y="405" width="3" height="4" fill="#c0c0c0" />
<rect x="535" y="405" width="3" height="4" fill="#c0c0c0" />
<rect x="539" y="405" width="3" height="4" fill="#c0c0c0" />
<rect x="543" y="405" width="3" height="5" fill="#c0c0c0" />
<rect x="547" y="405" width="3" height="4" fill="#c0c0c0" />
<rect x="551" y="405" width="3" height="3" fill="#c0c0c0" />
<rect x="555" y="405" width="3" height="5" fill="#c0c0c0" />
<rect x="559" y="405" width="3" height="7" fill="#c0c0c0" />
<rect x="563" y="405" width="3" height="7" fill="#c0c0c0" />
<rect x="567" y="405" width="3" height="9" fill="#c0c0c0" />
<rect x="571" y="405" width="3" height="13" fill="#c0c0c0" />
<rect x="575" y="405" width="3" height="16" fill="#c0c0c0" />
<rect x="579" y="405" width="3" height="18" fill="#c0c0c0" />
<rect x="583" y="405" width="3" height="19" fill="#c0c0c0" />
<rect x="587" y="405" width="3" height="21" fill="#c0c0c0" />
<rect x="591" y="405" width="3" height="22" fill="#c0c0c0" />
<rect x="595" y="405" width="3" height="22" fill="#c0c0c0" />
<rect x="599" y="405" width="3" height="21" fill="#c0c0c0" />
<rect x="603" y="405" width="3" height="20" fill="#c0c0c0" />
<rect x="607" y="405" width="3" height="18" fill="#c0c0c0" />
<rect x="611" y="405" width="3" height="18" fill="#c0c0c0" />
<rect x="615" y="405" width="3" height="18" fill="#c0c0c0" />
<rect x="619" y="405" width="3" height="16" fill="#c0c0c0" />
<rect x="623" y="405" width="3" height="16" fill="#c0c0c0" />
<rect x="627" y="405" width="3" height="15" fill="#c0c0c0" />
<rect x="631" y="405" width="3" height="14" fill="#c0c0c0" />
<rect x="635" y="405" width="3" height="13" fill="#c0c0c0" />
<rect x="639" y="405" width="3" height="13" fill="#c0c0c0" />
<rect x="643" y="405" width="3" height="13" fill="#c0c0c0" />
<rect x="647" y="405" width="3" height="13" fill="#c0c0c0" />
<rect x="651" y="405" width="3" height="12" fill="#c0c0c0" />
<rect x="655" y="405" width="3" height="12" fill="#c0c0c0" />
<rect x="659" y="405" width="3" height="12" fill="#c0c0c0" />
<rect x="663" y="405" width="3" height="11" fill="#c0c0c0" />
<rect x="667" y="405" width="3" height="11" fill="#c0c0c0" />
<rect x="671" y="405" width="3" height="9" fill="#c0c0c0" />
<rect x="675" y="405" width="3" height="8" fill="#c0c0c0" />
<rect x="679" y="405" width="3" height="8" fill="#c0c0c0" />
<rect x="683" y="405" width="3" height="6" fill="#c0c0c0" />
<rect x="687" y="405" width="3" height="7" fill="#c0c0c0" />
<rect x="691" y="405" width="3" height="8" fill="#c0c0c0" />
<rect x="695" y="405" width="3" height="8" fill="#c0c0c0" />
<rect x="699" y="405" width="3" height="9" fill="#c0c0c0" />
<rect x="703" y="405" width="3" height="9" fill="#c0c0c0" />
<rect x="707" y="405" width="3" height="9" fill="#c0c0c0" />
<rect x="711" y="405" width="3" height="10" fill="#c0c0c0" />
<rect x="715" y="405" width="3" height="12" fill="#c0c0c0" />
<rect x="719" y="405" width="3" height="11" fill="#c0c0c0" />
<rect x="723" y="405" width="3" height="10" fill="#c0c0c0" />
<rect x="727" y="405" width="3" height="10" fill="#c0c0c0" />
<rect x="731" y="405" width="3" height="9" fill="#c0c0c0" />
<rect x="735" y="405" width="3" height="8" fill="#c0c0c0" />
<rect x="739" y="405" width="3" height="7" fill="#c0c0c0" />
<rect x="743" y="405" width="3" height="5" fill="#c0c0c0" />
<rect x="747" y="405" width="3" height="4" fill="#c0c0c0" />
<rect x="751" y="405" width="3" height="4" fill="#c0c0c0" />
<rect x="755" y="405" width="3" height="4" fill="#c0c0c0" />
<rect x="759" y="405" width="3" height="4" fill="#c0c0c0" />
<rect x="763" y="405" width="3" height="4" fill="#c0c0c0" />
<rect x="767" y="405" width="3" height="4" fill="#c0c0c0" />
<rect x="771" y="405" width="3" height="4" fill="#c0c0c0" />
<rect x="775" y="405" width="3" height="3" fill="#c0c0c0" />
<rect x="779" y="405" width="3" height="3" fill="#c0c0c0" />
<rect x="783" y="405" width="3" height="3" fill="#c0c0c0" />
<rect x="787" y="405" width="3" height="3" fill="#c0c0c0" />
<rect x="791" y="405" width="3" height="3" fill="#c0c0c0" />
<rect x="795" y="405" width="3" height="3" fill="#c0c0c0" />
<rect x="799" y="405" width="3" height="2" fill="#c0c0c0" />
<rect x="803" y="405" width="3" height="1" fill="#c0c0c0" />
<rect x="807" y="405" width="3" height="1" fill="#c0c0c0" />
<rect x="811" y="405" width="3" height="1" fill="#c0c0c0" />
<rect x="815" y="405" width="3" height="2" fill="#c0c0c0" />
<rect x="819" y="405" width="3" height="3" fill="#c0c0c0" />
<rect x="823" y="405" width="3" height="4" fill="#c0c0c0" />
<rect x="827" y="405" width="3" height="6" fill="#c0c0c0" />
<rect x="831" y="405" width="3" height="6" fill="#c0c0c0" />
<rect x="835" y="405" width="3" height="7" fill="#c0c0c0" />
<rect x="839" y="405" width="3" height="8" fill="#c0c0c0" />
<rect x="843" y="405" width="3" height="10" fill="#c0c0c0" />
<rect x="847" y="405" width="3" height="11" fill="#c0c0c0" />
<rect x="851" y="405" width="3" height="12" fill="#c0c0c0" />
<rect x="855" y="405" width="3" height="12" fill="#c0c0c0" />
<rect x="859" y="405" width="3" height="9" fill="#c0c0c0" />
<rect x="863" y="405" width="3" height="7" fill="#c0c0c0" />
<rect x="867" y="405" width="3" height="5" fill="#c0c0c0" />
<rect x="871" y="405" width="3" height="4" fill="#c0c0c0" />
<rect x="875" y="405" width="3" height="4" fill="#c0c0c0" />
<rect x="879" y="405" width="3" height="4" fill="#c0c0c0" />
<rect x="883" y="405" width="3" height="3" fill="#c0c0c0" />
<rect x="887" y="405" width="3" height="3" fill="#c0c0c0" />
<rect x="891" y="405" width="3" height="2" fill="#c0c0c0" />
<rect x="895" y="405" width="3" height="2" fill="#c0c0c0" />
<rect x="899" y="405" width="3" height="2" fill="#c0c0c0" />
<rect x="903" y="405" width="3" height="1" fill="#c0c0c0" />
<rect x="907" y="405" width="3" height="1" fill="#c0c0c0" />
<rect x="911" y="405" width="3" height="2" fill="#c0c0c0" />
</g>
<path d="M17 383.5h11M11 384.5h6M28 384.5h9M8 385.5h3M37 385.5h2M6 386.5h2M39 386.5h3M4 387.5h2M42 387.5h2M44 388.5h4M48 389.5h3M51 390.5h1M52 391.5h1M272 391.5h32M53 392.5h2M264 392.5h8M304 392.5h12M55 393.5h1M262 393.5h2M316 393.5h4M56 394.5h1M259 394.5h3M320 394.5h7M57 395.5h1M256 395.5h3M327 395.5h16M58 396.5h1M254 396.5h2M343 396.5h3M59 397.5h2M252 397.5h2M346 397.5h10M61 398.5h1M250 398.5h2M356 398.5h4M62 399.5h2M248 399.5h2M360 399.5h3M64 400.5h1M247 400.5h1M363 400.5h4M65 401.5h2M246 401.5h1M367 401.5h7M404 401.5h26M67 402.5h1M245 402.5h1M374 402.5h9M389 402.5h15M430 402.5h5M68 403.5h1M244 403.5h1M383 403.5h6M435 403.5h2M69 404.5h2M243 404.5h1M437 404.5h3M71 405.5h1M242 405.5h1M440 405.5h3M521 405.5h7M72 406.5h1M241 406.5h1M443 406.5h3M515 406.5h6M528 406.5h8M73 407.5h1M240 407.5h1M446 407.5h3M512 407.5h3M536 407.5h14M815 407.5h19M908 407.5h5M74 408.5h2M239 408.5h1M449 408.5h3M509 408.5h3M550 408.5h4M802 408.5h13M834 408.5h5M899 408.5h9M76 409.5h2M237 409.5h2M452 409.5h3M505 409.5h4M554 409.5h9M770 409.5h32M839 409.5h4M893 409.5h6M78 410.5h2M236 410.5h1M455 410.5h4M500 410.5h5M563 410.5h8M761 410.5h9M843 410.5h3M890 410.5h3M80 411.5h2M235 411.5h1M459 411.5h5M496 411.5h4M571 411.5h2M757 411.5h4M846 411.5h3M887 411.5h3M82 412.5h2M234 412.5h1M464 412.5h7M492 412.5h4M573 412.5h2M752 412.5h5M849 412.5h4M882 412.5h5M84 413.5h2M232 413.5h2M471 413.5h21M575 413.5h3M693 413.5h23M747 413.5h5M853 413.5h4M874 413.5h8M86 414.5h2M231 414.5h1M578 414.5h2M685 414.5h8M716 414.5h4M738 414.5h9M857 414.5h17M88 415.5h2M230 415.5h1M580 415.5h2M680 415.5h5M720 415.5h18M90 416.5h2M229 416.5h1M582 416.5h2M674 416.5h6M92 417.5h3M227 417.5h2M584 417.5h2M668 417.5h6M95 418.5h4M226 418.5h1M586 418.5h2M658 418.5h10M99 419.5h4M225 419.5h1M588 419.5h2M647 419.5h11M103 420.5h3M224 420.5h1M590 420.5h3M641 420.5h6M106 421.5h4M222 421.5h2M593 421.5h2M635 421.5h6M110 422.5h3M221 422.5h1M595 422.5h3M630 422.5h5M113 423.5h4M219 423.5h2M598 423.5h4M625 423.5h5M117 424.5h5M217 424.5h2M602 424.5h3M620 424.5h5M122 425.5h5M215 425.5h2M605 425.5h15M127 426.5h5M212 426.5h3M132 427.5h28M210 427.5h2M160 428.5h5M208 428.5h2M165 429.5h4M205 429.5h3M169 430.5h3M203 430.5h2M172 431.5h2M201 431.5h2M174 432.5h3M199 432.5h2M177 433.5h22" fill="none" stroke="#f01010" stroke-width="1" shape-rendering="crispEdges"/>
</g>
<text x="8.4" y="389" font-size="10.1" fill="#000" textLength="154" lengthAdjust="spacingAndGlyphs" stroke="#000" stroke-width="0.15">MACD(12,26,9) -0.001138 -0.001540</text>
<text x="1154.4" y="387" font-size="10.1" fill="#000" textLength="33" lengthAdjust="spacingAndGlyphs" stroke="#000" stroke-width="0.15">0.02607</text>
<text x="1154.4" y="409" font-size="10.1" fill="#000" textLength="18.6" lengthAdjust="spacingAndGlyphs" stroke="#000" stroke-width="0.15">0.00</text>
<text x="1154.5" y="437" font-size="10.1" fill="#000" textLength="42" lengthAdjust="spacingAndGlyphs" stroke="#000" stroke-width="0.15">-0.031872</text>
<g clip-path="url(#cRsi)">
<g shape-rendering="crispEdges">
<line x1="5" y1="463.5" x2="1150" y2="463.5" stroke="#c0c0c0" stroke-width="1" stroke-dasharray="3,3"/>
<line x1="5" y1="488.5" x2="1150" y2="488.5" stroke="#c0c0c0" stroke-width="1" stroke-dasharray="3,3"/>
</g>
<path d="M234 464.5h3M332 464.5h1M4 465.5h1M231 465.5h3M237 465.5h2M280 465.5h1M331 465.5h1M333 465.5h1M5 466.5h2M227 466.5h4M239 466.5h2M279 466.5h1M281 466.5h2M331 466.5h1M333 466.5h1M7 467.5h1M223 467.5h4M241 467.5h1M257 467.5h7M272 467.5h3M277 467.5h2M283 467.5h1M308 467.5h1M330 467.5h1M334 467.5h1M8 468.5h1M220 468.5h3M242 468.5h2M255 468.5h2M264 468.5h2M271 468.5h1M275 468.5h2M284 468.5h2M307 468.5h1M309 468.5h2M330 468.5h1M334 468.5h1M9 469.5h1M23 469.5h2M218 469.5h2M244 469.5h11M266 469.5h2M269 469.5h2M286 469.5h2M291 469.5h2M306 469.5h1M311 469.5h1M329 469.5h1M335 469.5h1M400 469.5h3M490 469.5h2M10 470.5h1M16 470.5h7M25 470.5h2M216 470.5h2M268 470.5h1M288 470.5h3M293 470.5h1M306 470.5h1M312 470.5h1M329 470.5h1M335 470.5h1M399 470.5h1M403 470.5h2M487 470.5h3M492 470.5h2M800 470.5h1M11 471.5h1M14 471.5h2M27 471.5h1M215 471.5h1M293 471.5h1M304 471.5h2M313 471.5h1M328 471.5h1M336 471.5h1M392 471.5h2M398 471.5h1M405 471.5h1M486 471.5h1M494 471.5h1M515 471.5h2M799 471.5h1M801 471.5h2M12 472.5h2M28 472.5h3M215 472.5h1M294 472.5h1M302 472.5h2M314 472.5h1M327 472.5h2M337 472.5h1M368 472.5h7M391 472.5h1M394 472.5h2M397 472.5h1M406 472.5h1M485 472.5h1M495 472.5h1M513 472.5h2M516 472.5h1M798 472.5h1M803 472.5h1M862 472.5h9M31 473.5h3M214 473.5h1M295 473.5h1M300 473.5h2M314 473.5h1M320 473.5h7M337 473.5h1M366 473.5h2M375 473.5h2M390 473.5h1M396 473.5h1M406 473.5h1M485 473.5h1M496 473.5h2M511 473.5h2M517 473.5h1M798 473.5h1M804 473.5h2M860 473.5h2M871 473.5h1M904 473.5h1M34 474.5h2M214 474.5h1M295 474.5h1M298 474.5h2M315 474.5h1M318 474.5h2M338 474.5h1M364 474.5h2M377 474.5h6M389 474.5h1M407 474.5h1M420 474.5h1M484 474.5h1M498 474.5h2M510 474.5h1M517 474.5h1M743 474.5h4M797 474.5h1M806 474.5h2M860 474.5h1M872 474.5h2M892 474.5h3M902 474.5h2M905 474.5h1M36 475.5h2M213 475.5h1M296 475.5h2M316 475.5h2M338 475.5h1M344 475.5h2M363 475.5h1M383 475.5h6M408 475.5h1M419 475.5h1M421 475.5h1M483 475.5h1M500 475.5h7M509 475.5h1M518 475.5h1M548 475.5h3M684 475.5h1M741 475.5h2M747 475.5h3M796 475.5h1M808 475.5h3M859 475.5h1M874 475.5h1M884 475.5h3M890 475.5h2M895 475.5h7M906 475.5h1M38 476.5h2M43 476.5h2M213 476.5h1M339 476.5h1M343 476.5h1M346 476.5h2M361 476.5h2M409 476.5h2M418 476.5h1M422 476.5h1M481 476.5h2M507 476.5h2M518 476.5h1M536 476.5h3M547 476.5h1M551 476.5h2M676 476.5h2M683 476.5h1M685 476.5h1M738 476.5h3M750 476.5h2M794 476.5h2M811 476.5h2M859 476.5h1M875 476.5h1M883 476.5h1M887 476.5h3M906 476.5h1M40 477.5h3M45 477.5h1M208 477.5h5M339 477.5h1M341 477.5h2M348 477.5h13M411 477.5h1M417 477.5h1M422 477.5h1M453 477.5h3M480 477.5h1M519 477.5h1M534 477.5h2M539 477.5h3M546 477.5h1M553 477.5h1M674 477.5h2M678 477.5h2M681 477.5h2M686 477.5h1M720 477.5h7M735 477.5h3M752 477.5h11M780 477.5h1M791 477.5h3M813 477.5h1M859 477.5h1M876 477.5h2M882 477.5h1M907 477.5h1M46 478.5h1M207 478.5h1M340 478.5h1M412 478.5h5M423 478.5h1M427 478.5h2M451 478.5h2M456 478.5h3M479 478.5h1M519 478.5h1M528 478.5h6M542 478.5h2M545 478.5h1M553 478.5h1M604 478.5h1M636 478.5h2M664 478.5h10M680 478.5h1M687 478.5h1M720 478.5h1M727 478.5h8M763 478.5h9M779 478.5h1M781 478.5h1M788 478.5h3M814 478.5h1M859 478.5h1M878 478.5h2M881 478.5h1M908 478.5h5M47 479.5h1M205 479.5h2M424 479.5h3M429 479.5h2M449 479.5h2M459 479.5h2M479 479.5h1M520 479.5h1M527 479.5h1M544 479.5h1M554 479.5h1M603 479.5h1M605 479.5h2M612 479.5h2M623 479.5h3M635 479.5h1M638 479.5h2M652 479.5h1M663 479.5h1M688 479.5h1M719 479.5h1M772 479.5h3M777 479.5h2M782 479.5h1M787 479.5h1M814 479.5h1M858 479.5h1M880 479.5h1M48 480.5h2M92 480.5h5M192 480.5h2M204 480.5h1M431 480.5h1M448 480.5h1M461 480.5h1M478 480.5h1M521 480.5h2M526 480.5h1M555 480.5h1M560 480.5h7M602 480.5h1M607 480.5h1M610 480.5h2M614 480.5h2M619 480.5h4M626 480.5h2M634 480.5h1M640 480.5h2M651 480.5h1M653 480.5h1M661 480.5h2M689 480.5h1M719 480.5h1M775 480.5h2M783 480.5h1M785 480.5h2M815 480.5h1M858 480.5h1M50 481.5h2M91 481.5h1M97 481.5h1M116 481.5h3M136 481.5h3M143 481.5h2M180 481.5h2M191 481.5h1M194 481.5h2M202 481.5h2M432 481.5h7M447 481.5h1M462 481.5h2M467 481.5h4M478 481.5h1M523 481.5h1M525 481.5h1M555 481.5h1M558 481.5h2M567 481.5h2M602 481.5h1M608 481.5h2M616 481.5h3M628 481.5h3M633 481.5h1M642 481.5h2M649 481.5h2M654 481.5h1M660 481.5h1M690 481.5h1M703 481.5h7M719 481.5h1M784 481.5h1M816 481.5h6M832 481.5h2M858 481.5h1M52 482.5h3M59 482.5h3M90 482.5h1M98 482.5h1M115 482.5h1M119 482.5h4M135 482.5h1M139 482.5h4M145 482.5h1M179 482.5h1M182 482.5h2M189 482.5h2M196 482.5h6M439 482.5h3M446 482.5h1M464 482.5h3M471 482.5h2M477 482.5h1M524 482.5h1M556 482.5h2M568 482.5h1M596 482.5h3M601 482.5h1M631 482.5h2M644 482.5h5M655 482.5h1M658 482.5h2M691 482.5h1M695 482.5h8M710 482.5h2M718 482.5h1M822 482.5h2M831 482.5h1M834 482.5h2M857 482.5h1M55 483.5h4M62 483.5h2M72 483.5h2M89 483.5h1M99 483.5h1M115 483.5h1M123 483.5h7M134 483.5h1M146 483.5h1M178 483.5h1M184 483.5h5M442 483.5h2M445 483.5h1M473 483.5h1M477 483.5h1M569 483.5h1M595 483.5h1M599 483.5h2M656 483.5h2M692 483.5h3M712 483.5h1M718 483.5h1M824 483.5h2M830 483.5h1M836 483.5h3M857 483.5h1M64 484.5h2M71 484.5h1M74 484.5h2M84 484.5h5M100 484.5h1M114 484.5h1M130 484.5h2M133 484.5h1M147 484.5h1M177 484.5h1M444 484.5h1M474 484.5h3M569 484.5h1M579 484.5h3M594 484.5h1M713 484.5h1M717 484.5h1M826 484.5h2M829 484.5h1M839 484.5h3M857 484.5h1M66 485.5h2M69 485.5h2M76 485.5h2M83 485.5h1M101 485.5h1M113 485.5h1M132 485.5h1M148 485.5h3M175 485.5h2M476 485.5h1M570 485.5h1M576 485.5h3M582 485.5h2M593 485.5h1M714 485.5h1M717 485.5h1M828 485.5h1M842 485.5h2M856 485.5h1M68 486.5h1M78 486.5h2M81 486.5h2M101 486.5h1M113 486.5h1M151 486.5h2M172 486.5h3M570 486.5h1M575 486.5h1M584 486.5h9M714 486.5h1M717 486.5h1M844 486.5h2M856 486.5h1M80 487.5h1M102 487.5h1M112 487.5h1M153 487.5h2M171 487.5h1M571 487.5h1M574 487.5h1M715 487.5h2M846 487.5h2M855 487.5h1M103 488.5h1M110 488.5h2M155 488.5h2M169 488.5h2M571 488.5h1M573 488.5h1M716 488.5h1M848 488.5h3M853 488.5h2M103 489.5h1M107 489.5h3M157 489.5h2M168 489.5h1M572 489.5h1M851 489.5h2M104 490.5h3M159 490.5h4M166 490.5h2M163 491.5h3" fill="none" stroke="#1e90ff" stroke-width="1" shape-rendering="crispEdges"/>
</g>
<text x="8.1" y="455" font-size="10.1" fill="#000" textLength="67.5" lengthAdjust="spacingAndGlyphs" stroke="#000" stroke-width="0.15">RSI(14) 45.5383</text>
<text x="1154.2" y="453" font-size="10.1" fill="#000" textLength="15.4" lengthAdjust="spacingAndGlyphs" stroke="#000" stroke-width="0.15">100</text>
<text x="1152.9" y="467" font-size="10.1" fill="#000" textLength="10.6" lengthAdjust="spacingAndGlyphs" stroke="#000" stroke-width="0.15">70</text>
<text x="1152.9" y="492" font-size="10.1" fill="#000" textLength="10.6" lengthAdjust="spacingAndGlyphs" stroke="#000" stroke-width="0.15">30</text>
<text x="1153.8" y="505" font-size="10.1" fill="#000" textLength="5.5" lengthAdjust="spacingAndGlyphs" stroke="#000" stroke-width="0.15">0</text>
</svg></body></html>
